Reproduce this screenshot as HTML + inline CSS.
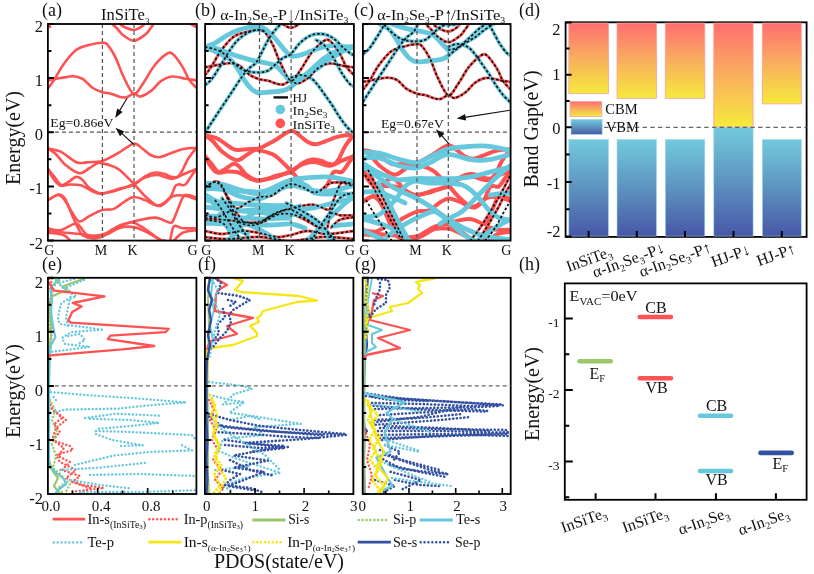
<!DOCTYPE html>
<html><head><meta charset="utf-8"><style>
html,body{margin:0;padding:0;background:#fff;}
svg{display:block;}
text{font-family:'Liberation Serif','Times New Roman',serif;fill:#111;}
</style></head><body>
<svg width="814" height="574" viewBox="0 0 814 574">
<rect width="814" height="574" fill="#fff"/>
<defs>
<clipPath id="clipa"><rect x="47.9" y="24" width="148.9" height="216.6"/></clipPath>
<clipPath id="clipb"><rect x="205.1" y="24" width="148.8" height="216.6"/></clipPath>
<clipPath id="clipc"><rect x="362.9" y="24" width="147.7" height="216.6"/></clipPath>
<clipPath id="clipd"><rect x="565.6" y="22.3" width="241" height="214.6"/></clipPath>
<clipPath id="clipe"><rect x="47.9" y="277.8" width="148.5" height="216.2"/></clipPath>
<clipPath id="clipf"><rect x="204.9" y="277.8" width="148.5" height="216.2"/></clipPath>
<clipPath id="clipg"><rect x="362.7" y="277.8" width="148" height="216.2"/></clipPath>
<clipPath id="cliph"><rect x="564.8" y="283.4" width="241.8" height="216.4"/></clipPath>
<linearGradient id="gcb" x1="0" y1="0" x2="0" y2="1"><stop offset="0" stop-color="#ff6e70"/><stop offset="0.45" stop-color="#f9a861"/><stop offset="1" stop-color="#f6ea3c"/></linearGradient>
<linearGradient id="gvb" x1="0" y1="0" x2="0" y2="1"><stop offset="0" stop-color="#72cadd"/><stop offset="0.5" stop-color="#5d93c0"/><stop offset="1" stop-color="#4757a8"/></linearGradient>
</defs>
<g fill="none" stroke="#ff5252" stroke-width="2.6" stroke-linecap="round" stroke-linejoin="round" clip-path="url(#clipa)">
<path d="M48 88.2C49.1 86.8 51.8 83.6 54.4 79.6C57 75.5 60.1 68.9 63.8 63.9C67.5 58.9 72.2 52.9 76.4 49.8C80.6 46.7 84.6 46.3 88.9 45.1C93.2 43.9 99.2 42.7 102.3 42.7C105.4 42.7 105.5 42.6 107.7 45.1C109.9 47.6 113 52.4 115.6 57.6C118.2 62.8 120.4 70.5 123.4 76.5C126.4 82.5 130.5 92.7 133.8 93.7C137.2 94.7 140.1 87.4 143.5 82.7C146.9 78 150.6 70.3 154.5 65.5C158.4 60.7 164 55.5 167.1 53.7C170.2 51.9 170.7 52.3 173.3 54.5C175.9 56.7 180.1 62.9 182.7 67.1C185.3 71.3 186.8 76.2 189 79.6C191.2 83 194.9 86.2 196.1 87.5"/>
<path d="M48 80.4C50.1 80 56.5 78.7 60.7 78C64.9 77.3 69.6 76.1 73.2 76.2C76.8 76.3 79.4 76.9 82.6 78.8C85.8 80.7 88.8 85.3 92.1 87.5C95.4 89.7 99.2 91.2 102.3 92.2C105.4 93.2 108 92.9 110.9 93.7C113.9 94.5 117.4 96.3 120 96.9C122.6 97.5 124 97.9 126.3 97.4C128.6 96.9 131.5 93.9 133.8 93.7C136.2 93.5 137.5 97 140.4 96.5C143.3 96 148 93.1 151.4 90.6C154.8 88 157.4 83.5 160.8 81.2C164.2 78.9 167.6 76.9 171.8 76.5C176 76.1 181.9 78.1 185.9 78.8C189.9 79.5 194.4 80.1 196.1 80.4"/>
<path d="M119.8 24C120.8 24.6 123.7 26.8 126 27.8C128.3 28.8 131.2 30 133.5 30C135.8 30 137.6 29 139.5 28C141.4 27 143.8 24.7 144.7 24"/>
<path d="M112.5 24C113.4 24.9 116.2 27.6 118 29.5C119.8 31.4 120.5 33.3 123.2 35.2C125.9 37.1 130.3 40.9 134 40.8C137.7 40.6 142.9 36.3 145.6 34.3C148.3 32.3 148.7 30.7 150 29C151.3 27.3 153.1 24.8 153.7 24"/>
<path d="M48 148.6C50.1 149.1 56 149.4 60.7 151.7C65.4 154 72.1 160.4 76.4 162.2C80.8 164 82.5 162.6 86.8 162.4C91.1 162.2 97.9 162.2 102.3 161.1C106.7 160 110 157.5 113 156C116 154.5 116.5 154.1 120 152C123.5 149.9 130 144.2 133.8 143.7C137.6 143.2 139.9 146.9 142.7 148.8C145.5 150.7 148 153.6 150.6 155C153.2 156.4 155.7 157.4 158.5 157.3C161.3 157.2 164.2 155.7 167.6 154.5C171 153.3 175.5 151.2 178.9 150.2C182.3 149.1 185.1 148.6 188 148.2C190.9 147.8 194.9 148 196.3 148"/>
<path d="M48 148.6C49.2 149.5 52.5 151 55.5 153.8C58.5 156.6 61.9 162.1 65.9 165.3C69.9 168.5 75.7 172.7 79.5 173.2C83.3 173.7 85.9 170.2 88.9 168.5C91.9 166.8 95.1 164 97.3 163.2C99.5 162.3 99.7 162.9 102.3 163.4C104.9 163.9 110 165.2 113 166.4C116 167.6 116.5 167.4 120 170.3C123.5 173.2 129.6 179.5 133.8 183.8C138 188.1 141.6 192.9 145.1 196.3C148.6 199.8 152.4 202.9 155.1 204.5C157.8 206.1 158.9 206.8 161.4 205.7C163.9 204.5 167.9 200.8 170.2 197.6C172.5 194.4 173.8 188.5 175.2 186.3C176.6 184.1 177.3 184.6 178.9 184.4C180.5 184.2 182.8 186.1 184.6 185C186.4 183.9 188.1 180.7 190 178C191.9 175.3 195.2 170.5 196.3 169"/>
<path d="M48 169C49.2 170.4 52.8 174.8 55 177.5C57.2 180.2 59.2 184.2 61.3 185C63.4 185.8 65.1 183.8 67.6 182.5C70.1 181.2 73.8 177.3 76.3 176.9C78.8 176.5 80.5 178.2 82.6 180C84.7 181.8 86.4 185.5 88.9 187.6C91.4 189.7 95.5 191.7 97.7 192.6C100 193.5 99.7 193.4 102.4 193.2C105.1 193 110.2 192.2 114 191.3C117.8 190.4 121.7 188.8 125 187.6C128.3 186.3 130.5 185.5 133.8 183.8C137.2 182.1 141.1 179 145.1 177.5C149.1 176 153 174.8 157.6 175C162.2 175.2 168.3 179 172.7 178.8C177.1 178.6 180.1 175.6 184 174C187.9 172.4 194.2 169.8 196.3 169"/>
<path d="M48 169C48.8 170.4 50.5 174.8 52.5 177.5C54.5 180.2 57.1 184.3 60 185.5C62.9 186.7 66.4 184.5 70 184.5C73.6 184.5 77.6 184.4 81.4 185.5C85.2 186.6 89.1 189.9 92.6 191.3C96.1 192.7 97.8 194.3 102.4 193.8C107 193.3 114.8 190 120 188.5C125.2 187 129.6 187 133.8 185C138 183 141.6 178.4 145.1 176.3C148.6 174.2 152 172.9 155.1 172.5C158.2 172.1 161.4 173.1 163.9 173.8C166.4 174.5 167.9 175.9 170 176.5C172.1 177.1 174.8 177.8 176.7 177.1C178.6 176.4 179.3 175.6 181.2 172.6C183.1 169.6 185.5 163.1 188 159C190.5 154.9 194.9 149.8 196.3 148"/>
<path d="M48 200.1C49.6 199.2 54.9 195.2 57.5 195C60.1 194.8 61.7 196.5 63.8 198.8C65.9 201.1 67.5 205.1 70 208.9C72.5 212.7 75.8 220.2 78.9 221.4C82.1 222.7 85 218.3 88.9 216.4C92.8 214.5 98.2 211.3 102.4 210.1C106.6 208.8 110.2 210.4 114 208.9C117.8 207.4 121.7 203.3 125 201.3C128.3 199.3 130.5 197.2 133.8 197C137.2 196.8 141.6 198.8 145.1 200.1C148.6 201.4 152.2 204.5 155.1 205.1C158 205.7 159.7 205.4 162.6 203.9C165.5 202.4 168.9 197.7 172.7 196.3C176.5 194.9 181.3 195.2 185.2 195.7C189.1 196.2 194.5 198.9 196.3 199.5"/>
<path d="M48 200.1C49.8 199.2 56 194.7 58.8 194.5C61.6 194.3 62.8 195.4 65 198.8C67.2 202.2 69.8 210.1 72 215C74.2 219.9 76.2 224.6 78 228C79.8 231.4 80.2 233.5 82.6 235.2C85 236.9 89.3 238.1 92.6 238.3C95.9 238.5 99.5 237.7 102.4 236.5C105.3 235.3 107 232.9 110 231C113 229.1 116.2 226.8 120.2 225.2C124.2 223.6 128 222.7 133.8 221.4C139.6 220.1 149 217.4 155.1 217.6C161.2 217.8 167.1 222.5 170.2 222.7C173.3 222.9 171.8 223.1 173.9 218.9C176 214.7 180.4 201.6 182.7 197.6C185 193.6 185.4 195.1 187.7 195.1C190 195.1 194.9 197.2 196.3 197.6"/>
<path d="M48 228.3C50 228.6 55.7 230.9 60 230.2C64.3 229.5 70.6 224.7 73.8 223.9C77 223.1 76.6 223.3 78.9 225.2C81.2 227.1 83.7 233.6 87.6 235.2C91.5 236.8 98 235.6 102.4 234.6C106.8 233.6 110.2 230.8 114 229C117.8 227.2 121.7 225.1 125 224C128.3 222.9 130.5 221.9 133.8 222.7C137.1 223.5 140.6 226.2 145 229C149.4 231.8 156.7 237.7 160 239.6C163.3 241.5 164.2 240.3 165 240.5"/>
<path d="M48 232.7C50.6 233.1 60.1 233.9 63.8 235.2C67.5 236.5 69 239.6 70 240.5"/>
<path d="M48 231C53.3 231.5 70.9 233.2 80 234C89.1 234.8 95.7 237.1 102.4 236C109.1 234.9 114.8 229.2 120 227.7C125.2 226.2 129.6 226.5 133.8 227.1C138 227.7 140.5 229.2 145.1 231.4C149.7 233.6 158.7 239 161.4 240.5"/>
<path d="M170.2 240.5C170.8 238.2 171.8 228.4 173.9 226.4C176 224.4 179 228 182.7 228.3C186.4 228.6 194 228.3 196.3 228.3"/>
<path d="M173.9 240.5C175.4 239.2 179 234.4 182.7 232.7C186.4 231 194 230.6 196.3 230.2"/>
<path d="M48 24L50 27"/>
<path d="M191 24L196.3 27"/>
</g>
<g fill="none" stroke-linecap="round" stroke-linejoin="round" clip-path="url(#clipb)">
<path d="M205 75.2C206.1 73.8 208.8 70.6 211.4 66.6C214.1 62.5 217.2 55.9 220.8 50.9C224.5 45.9 229.3 39.9 233.5 36.8C237.6 33.7 241.7 33.3 246 32.1C250.3 30.9 256.3 29.7 259.4 29.7C262.5 29.7 262.6 29.6 264.8 32.1C267 34.6 270.1 39.4 272.7 44.6C275.4 49.8 277.5 57.5 280.6 63.5C283.6 69.5 287.6 79.7 291 80.7C294.3 81.7 297.2 74.4 300.7 69.7C304.1 65 307.8 57.3 311.7 52.5C315.7 47.7 321.2 42.5 324.3 40.7C327.5 38.9 327.9 39.3 330.6 41.5C333.2 43.7 337.4 49.9 340 54.1C342.6 58.3 344 63.2 346.3 66.6C348.5 70 352.2 73.2 353.4 74.5" stroke="#ff5252" stroke-width="2.8"/>
<path d="M205 67.4C207.1 67 213.5 65.7 217.7 65C221.9 64.3 226.6 63.1 230.3 63.2C233.9 63.3 236.5 63.9 239.7 65.8C242.8 67.7 245.9 72.3 249.2 74.5C252.5 76.7 256.3 78.2 259.4 79.2C262.5 80.2 265.1 79.9 268 80.7C271 81.5 274.6 83.3 277.1 83.9C279.7 84.5 281.2 84.9 283.5 84.4C285.8 83.9 288.6 80.9 291 80.7C293.3 80.5 294.6 84 297.6 83.5C300.5 83 305.2 80.1 308.6 77.6C312 75 314.6 70.5 318 68.2C321.4 65.9 324.9 63.9 329.1 63.5C333.2 63.1 339.1 65.1 343.2 65.8C347.2 66.5 351.7 67.1 353.4 67.4" stroke="#ff5252" stroke-width="2.8"/>
<path d="M276.9 11C278 11.6 280.9 13.8 283.2 14.8C285.4 15.8 288.4 17 290.7 17C292.9 17 294.8 16 296.7 15C298.6 14 301 11.7 301.9 11" stroke="#ff5252" stroke-width="2.8"/>
<path d="M269.6 11C270.5 11.9 273.4 14.6 275.1 16.5C276.9 18.4 277.7 20.3 280.4 22.2C283 24.1 287.4 27.9 291.2 27.8C294.9 27.6 300.1 23.3 302.8 21.3C305.5 19.3 305.9 17.7 307.2 16C308.6 14.3 310.3 11.8 310.9 11" stroke="#ff5252" stroke-width="2.8"/>
<path d="M205 135.6C207.1 136.1 213 136.4 217.7 138.7C222.5 141 229.1 147.4 233.5 149.2C237.8 151 239.6 149.6 243.9 149.4C248.2 149.2 255 149.2 259.4 148.1C263.8 147 267.2 144.5 270.1 143C273.1 141.5 273.7 141.1 277.1 139C280.6 136.9 287.2 131.2 291 130.7C294.8 130.2 297.1 133.9 299.9 135.8C302.7 137.7 305.2 140.6 307.8 142C310.4 143.4 312.9 144.4 315.7 144.3C318.6 144.2 321.4 142.7 324.8 141.5C328.2 140.3 332.8 138.2 336.2 137.2C339.6 136.1 342.4 135.6 345.3 135.2C348.2 134.8 352.2 135 353.6 135" stroke="#ff5252" stroke-width="4.0"/>
<path d="M205 135.6C206.3 136.5 209.5 138 212.5 140.8C215.5 143.6 218.9 149.1 222.9 152.3C226.9 155.5 232.7 159.7 236.6 160.2C240.4 160.7 243 157.2 246 155.5C249 153.8 252.2 151 254.4 150.2C256.6 149.3 256.8 149.9 259.4 150.4C262 150.9 267.2 152.2 270.1 153.4C273.1 154.6 273.7 154.4 277.1 157.3C280.6 160.2 286.8 166.5 291 170.8C295.2 175.1 298.7 179.9 302.3 183.3C305.9 186.8 309.6 189.9 312.3 191.5C315 193.1 316.1 193.8 318.6 192.7C321.2 191.5 325.1 187.8 327.4 184.6C329.8 181.4 331 175.5 332.5 173.3C333.9 171.1 334.6 171.6 336.2 171.4C337.7 171.2 340 173.1 341.9 172C343.7 170.9 345.3 167.7 347.3 165C349.2 162.3 352.5 157.5 353.6 156" stroke="#ff5252" stroke-width="4.0"/>
<path d="M205 156C206.2 157.4 209.8 161.8 212 164.5C214.2 167.2 216.2 171.2 218.3 172C220.4 172.8 222.1 170.8 224.6 169.5C227.1 168.2 230.9 164.3 233.4 163.9C235.9 163.5 237.6 165.2 239.7 167C241.8 168.8 243.5 172.5 246 174.6C248.5 176.7 252.5 178.7 254.8 179.6C257.1 180.5 256.8 180.4 259.5 180.2C262.2 180 267.4 179.2 271.1 178.3C274.9 177.4 278.8 175.8 282.2 174.6C285.5 173.3 287.6 172.5 291 170.8C294.3 169.1 298.3 166 302.3 164.5C306.3 163 310.2 161.8 314.8 162C319.4 162.2 325.5 166 330 165.8C334.4 165.6 337.3 162.6 341.3 161C345.2 159.4 351.5 156.8 353.6 156" stroke="#ff5252" stroke-width="4.0"/>
<path d="M205 156C205.8 157.4 207.5 161.8 209.5 164.5C211.5 167.2 214.1 171.3 217 172.5C219.9 173.7 223.5 171.5 227 171.5C230.6 171.5 234.7 171.4 238.5 172.5C242.2 173.6 246.2 176.9 249.7 178.3C253.2 179.7 254.9 181.3 259.5 180.8C264.1 180.3 271.9 177 277.1 175.5C282.4 174 286.8 174 291 172C295.2 170 298.7 165.4 302.3 163.3C305.9 161.2 309.2 159.9 312.3 159.5C315.5 159.1 318.6 160.1 321.1 160.8C323.6 161.5 325.1 162.9 327.2 163.5C329.4 164.1 332.1 164.8 334 164.1C335.8 163.4 336.6 162.6 338.5 159.6C340.4 156.6 342.8 150.1 345.3 146C347.8 141.9 352.2 136.8 353.6 135" stroke="#ff5252" stroke-width="4.0"/>
<path d="M205 187.1C206.6 186.2 211.9 182.2 214.5 182C217.2 181.8 218.7 183.5 220.8 185.8C222.9 188.1 224.5 192.1 227 195.9C229.6 199.7 232.8 207.2 236 208.4C239.1 209.7 242.1 205.3 246 203.4C249.9 201.5 255.3 198.3 259.5 197.1C263.7 195.8 267.4 197.4 271.1 195.9C274.9 194.4 278.8 190.3 282.2 188.3C285.5 186.3 287.6 184.2 291 184C294.3 183.8 298.7 185.8 302.3 187.1C305.9 188.4 309.4 191.5 312.3 192.1C315.2 192.7 316.9 192.4 319.8 190.9C322.8 189.4 326.2 184.7 330 183.3C333.7 181.9 338.5 182.2 342.5 182.7C346.4 183.2 351.7 185.9 353.6 186.5" stroke="#ff5252" stroke-width="2.8"/>
<path d="M205 187.1C206.8 186.2 213 181.7 215.8 181.5C218.7 181.3 219.8 182.4 222 185.8C224.2 189.2 226.9 197.1 229 202C231.2 206.9 233.3 211.6 235.1 215C236.8 218.4 237.2 220.5 239.7 222.2C242.1 223.9 246.4 225.1 249.7 225.3C253 225.5 256.6 224.7 259.5 223.5C262.4 222.3 264.2 219.9 267.1 218C270.1 216.1 273.4 213.8 277.3 212.2C281.3 210.6 285.1 209.7 291 208.4C296.8 207.1 306.2 204.4 312.3 204.6C318.4 204.8 324.3 209.5 327.4 209.7C330.6 209.9 329.1 210.1 331.2 205.9C333.2 201.7 337.7 188.6 340 184.6C342.3 180.6 342.7 182.1 345 182.1C347.3 182.1 352.2 184.2 353.6 184.6" stroke="#ff5252" stroke-width="2.8"/>
<path d="M205 215.3C207 215.6 212.7 217.9 217 217.2C221.3 216.5 227.7 211.7 230.9 210.9C234 210.1 233.7 210.3 236 212.2C238.3 214.1 240.8 220.6 244.7 222.2C248.6 223.8 255.1 222.6 259.5 221.6C263.9 220.6 267.4 217.8 271.1 216C274.9 214.2 278.8 212.1 282.2 211C285.5 209.9 287.6 208.9 291 209.7C294.3 210.5 297.8 213.2 302.2 216C306.6 218.8 313.9 224.7 317.2 226.6C320.6 228.5 321.4 227.3 322.2 227.5" stroke="#ff5252" stroke-width="2.8"/>
<path d="M205 219.7C207.6 220.1 217.2 220.9 220.8 222.2C224.5 223.5 226 226.6 227 227.5" stroke="#ff5252" stroke-width="2.8"/>
<path d="M205 218C210.3 218.5 228 220.2 237.1 221C246.1 221.8 252.8 224.1 259.5 223C266.2 221.9 271.9 216.2 277.1 214.7C282.4 213.2 286.8 213.5 291 214.1C295.2 214.7 297.7 216.2 302.3 218.4C306.9 220.6 315.9 226 318.6 227.5" stroke="#ff5252" stroke-width="2.8"/>
<path d="M327.4 227.5C328.1 225.2 329.1 215.4 331.2 213.4C333.2 211.4 336.2 215 340 215.3C343.7 215.6 351.3 215.3 353.6 215.3" stroke="#ff5252" stroke-width="2.8"/>
<path d="M331.2 227.5C332.6 226.2 336.2 221.4 340 219.7C343.7 218 351.3 217.6 353.6 217.2" stroke="#ff5252" stroke-width="2.8"/>
<path d="M205 231C207.8 231.5 215.9 234 222 234C228.2 234 235.8 231.2 242.1 231C248.3 230.8 253.7 232 259.5 233C265.4 234 271.9 236.7 277.1 237C282.4 237.3 286 236 291 235C296 234 301.2 231.2 307.2 231C313.3 230.8 319.5 234 327.2 234C335 234 349.2 231.5 353.6 231" stroke="#ff5252" stroke-width="2.8"/>
<path d="M205 237C208.7 237.3 218 239 227 239C236.1 239 248.9 236.7 259.5 237C270.2 237.3 280.5 241 291 241C301.4 241 311.8 237.3 322.2 237C332.7 236.7 348.4 238.7 353.6 239" stroke="#ff5252" stroke-width="2.8"/>
<path d="M205 46.9C206.7 46.3 211.3 45.1 214.9 43.2C218.5 41.3 222.8 37.7 226.7 35.5C230.6 33.3 234.6 31.4 238.5 30C242.4 28.6 246.9 27.6 250.4 27C253.9 26.4 256.8 26.1 259.6 26.7C262.4 27.2 264.6 28.5 267 30.3C269.4 32.1 271.4 34.4 274.1 37.4C276.8 40.4 280.2 45 283 48.1C285.8 51.2 288 54.6 290.8 55.8C293.6 57 296.2 56 299.7 55.2C303.2 54.4 307.7 52.4 311.6 51C315.6 49.6 319.4 47.8 323.4 46.9C327.3 46 331.4 45.7 335.3 45.7C339.2 45.7 344 46.7 347.1 46.9C350.2 47.1 352.9 46.9 354 46.9" stroke="#66c8dc" stroke-width="4.8"/>
<path d="M205 46.9C206.7 47.1 211.3 47.2 214.9 48.1C218.5 49 222.8 50.8 226.7 52.2C230.6 53.6 234.6 55.1 238.5 56.4C242.4 57.7 246.9 59 250.4 59.9C253.9 60.8 256.6 61.1 259.6 61.7C262.6 62.3 265.5 62.8 268.2 63.5C270.9 64.2 273.5 64.4 276 66C278.5 67.6 280.5 70.5 283 73C285.5 75.5 288 80 290.8 81C293.6 82 296.2 80.8 299.7 78.9C303.2 77 307.7 72.8 311.6 69.4C315.6 66 319.4 61.7 323.4 58.7C327.3 55.7 331.4 53.5 335.3 51.6C339.2 49.7 344 48.3 347.1 47.5C350.2 46.7 352.9 47 354 46.9" stroke="#66c8dc" stroke-width="4.8"/>
<path d="M205 46.9C206.2 47.4 209.5 48.8 212 50C214.5 51.2 216.8 52.3 220 54C223.2 55.7 227.7 57.1 230.9 60C234.1 62.9 236.9 67.6 239.2 71.1C241.5 74.6 242.7 77.9 244.8 80.9C246.9 83.9 249.5 87.3 251.8 89.3C254.1 91.3 255.7 92.3 258.7 92.8C261.7 93.2 265.9 92.3 270 92C274.1 91.7 279.5 91.5 283 90.7C286.5 89.9 287.3 89.3 290.8 87C294.3 84.7 299.4 79.8 303.9 76.7C308.4 73.6 314.3 70.7 317.8 68.4C321.3 66.1 321.9 64.9 324.8 62.8C327.7 60.7 331.6 58.1 335 56C338.4 53.9 341.8 51.5 345 50C348.2 48.5 352.5 47.4 354 46.9" stroke="#66c8dc" stroke-width="4.8"/>
<path d="M205.1 132.5C207.1 129.5 212.6 120.9 216.9 114.4C221.2 107.9 226.7 99.7 230.9 93.4C235.1 87.1 239 80.9 242 76.7C245 72.5 246.7 70.7 249 68.4C251.3 66.1 253.8 65.5 256 62.8C258.2 60.1 260.2 55.5 262 52C263.8 48.5 265.3 45 267 42C268.7 39 270.3 36.3 272 34C273.7 31.7 275.5 29.7 277 28C278.5 26.3 279.8 25.3 281 24C282.2 22.7 283.5 20.7 284 20" stroke="#66c8dc" stroke-width="3.6"/>
<path d="M290.8 78C292.3 77.5 296.7 75 300 75C303.3 75 307.8 76.4 310.8 78.1C313.8 79.8 315.5 82.3 317.8 85.1C320.1 87.9 322.5 91.5 324.8 94.8C327.1 98 329.4 101.1 331.7 104.6C334 108.1 336.4 112.2 338.7 115.7C341 119.2 343.4 122.7 345.7 125.5C348 128.3 351 130.8 352.7 132.5C354.4 134.2 355.4 135.4 356 136" stroke="#66c8dc" stroke-width="3.6"/>
<path d="M205 85.1C206.1 84.2 209 82.5 211.4 79.5C213.8 76.5 217.6 70.2 219.7 67C221.8 63.8 222.2 62.8 223.9 60C225.6 57.2 228 53 230 50C232 47 233.7 44.5 236 42C238.3 39.5 241.3 36.8 244 35C246.7 33.2 249.4 31.8 252 31C254.6 30.2 257.3 29.8 259.6 30C261.9 30.2 264.9 31.7 266 32" stroke="#66c8dc" stroke-width="3.6"/>
<path d="M205 46.9C207.6 47.7 216.2 49 220.8 51.6C225.4 54.2 229.1 59.3 232.6 62.3C236.1 65.3 239.1 67.8 242.1 69.4C245.1 71 247.5 71.3 250.4 71.8C253.3 72.3 256.6 72.6 259.6 72.4C262.6 72.2 265.4 72.1 268.2 70.6C271 69.1 274 65.6 276.5 63.5C279 61.4 280.6 59.6 283 58C285.4 56.4 288 56.5 290.8 54C293.6 51.5 296.6 46.3 299.7 43.3C302.8 40.3 306.2 37.8 309.2 36.2C312.2 34.6 314.5 34.1 317.5 33.9C320.5 33.7 324 34 327 35C330 36 332.7 37.8 335.3 39.8C337.9 41.8 340 44.7 342.4 46.9C344.8 49.1 347.6 51.4 349.5 52.8C351.4 54.2 353.2 54.8 354 55.2" stroke="#66c8dc" stroke-width="3.6"/>
<path d="M316 40C317.2 40.7 320.8 42.1 323 44C325.2 45.9 327.2 48.8 329.3 51.6C331.4 54.5 333.1 57.4 335.3 61.1C337.5 64.8 340 70.3 342.4 74.1C344.8 77.8 347.6 81.5 349.5 83.6C351.4 85.7 353.2 86 354 86.5" stroke="#66c8dc" stroke-width="3.6"/>
<path d="M204.6 183.2C207.3 183.4 214.8 183 221 184.2C227.3 185.4 235.8 188.9 242.1 190.5C248.4 192.1 253.8 194.2 259 193.7C264.3 193.2 268.5 189.7 273.7 187.4C279 185.1 285.4 181.7 290.7 180.1C296 178.5 299.4 178.5 305.4 178C311.4 177.5 319.4 176.6 326.5 176.9C333.5 177.2 342.9 179.2 347.5 180.1C352.2 181 353.1 181.8 354.2 182.2" stroke="#66c8dc" stroke-width="4.8"/>
<path d="M204.6 189C207.3 189 214.8 187.7 221 189C227.3 190.3 235.8 195.3 242.1 197C248.4 198.7 253.8 199.7 259 199C264.3 198.3 268.5 195.3 273.7 193C279 190.7 284 185.7 290.7 185.3C297.3 184.9 306.9 189.8 313.8 190.7C320.6 191.6 325.1 191.6 331.8 190.7C338.5 189.8 350.5 186.2 354.2 185.3" stroke="#66c8dc" stroke-width="4.8"/>
<path d="M204.7 194.3C207.3 195.8 214.5 200.6 220.1 203.3C225.7 206 232.1 209.4 238.2 210.5C244.2 211.6 249.6 209.8 256.2 209.6C262.8 209.4 271 209.6 277.6 209.6C284.1 209.6 289.6 209.9 295.6 209.6C301.7 209.3 307.7 208.9 313.8 207.8C319.8 206.8 325.1 205 331.8 203.3C338.5 201.7 350.5 198.8 354.2 197.9" stroke="#66c8dc" stroke-width="4.8"/>
<path d="M204.7 197C207.3 198.8 214.5 204.2 220.1 208C225.7 211.8 232.1 216.7 238.2 220C244.2 223.3 250.3 225 256.2 228C262.1 231 267.8 234.3 273.5 238C279.3 241.7 285.4 246.6 290.7 250C296 253.4 299.4 255.7 305.4 258.5C311.4 261.3 319.4 265 326.5 266.9C333.5 268.8 342.7 269.3 347.5 270C352.3 270.7 353.9 270.8 355.2 271" stroke="#66c8dc" stroke-width="4.8"/>
<path d="M204.7 248.1C207.3 247.8 216.1 247.8 220.1 246.3C224.2 244.8 226.1 241.9 229.1 239.2C232.1 236.5 235.2 233.8 238.2 230.2C241.2 226.6 244.1 220.6 247.1 217.6C250.1 214.6 252 212.9 256.2 212.3C260.4 211.7 266.9 213.7 272.5 214C278.2 214.3 287.3 214 290.3 214" stroke="#66c8dc" stroke-width="4.8"/>
<path d="M204.7 223C207.3 223 215.2 222.2 220.1 223C225 223.8 229.7 226.2 234.2 228C238.8 229.8 245.2 233 247.3 234" stroke="#66c8dc" stroke-width="4.8"/>
<path d="M204.7 250C208.8 251.2 222 254.1 229.1 257.1C236.2 260.1 243.3 265.4 247.1 267.9C251 270.4 249.8 269.8 252.4 272C254.9 274.2 260.8 279.5 262.5 281" stroke="#66c8dc" stroke-width="4.8"/>
<path d="M220.1 214C221.6 216.7 226.1 224.5 229.1 230.2C232.1 235.9 235.2 242.4 238.2 248.1C241.2 253.8 244.8 259.7 247.1 264.3C249.5 268.9 251.5 274.1 252.4 276" stroke="#66c8dc" stroke-width="4.8"/>
<path d="M229.1 267.9C232.1 265.8 241.1 258.9 247.1 255.3C253.2 251.7 260.2 248.4 265.3 246.3C270.4 244.2 273.4 241.8 277.6 242.7C281.7 243.6 285.8 248.1 290.3 251.7C294.8 255.3 300.8 261.3 304.7 264.3C308.6 267.3 311.1 268.1 313.8 269.7C316.5 271.3 319.7 273.3 320.9 274" stroke="#66c8dc" stroke-width="4.8"/>
<path d="M290.3 214C292.7 214.3 300.8 214.6 304.7 215.8C308.6 217 310.8 218.8 313.8 221.2C316.8 223.6 319.7 226.9 322.7 230.2C325.7 233.5 328.8 238 331.8 241C334.8 244 337.1 246.3 340.9 248.1C344.6 249.9 352 251.1 354.2 251.7" stroke="#66c8dc" stroke-width="4.8"/>
<path d="M282.6 255C283.9 254.2 286.6 252 290.3 249.9C294 247.8 299.3 246.9 304.7 242.7C310.1 238.5 318.2 229.3 322.7 224.8C327.3 220.3 328.8 218.8 331.8 215.8C334.8 212.8 337.1 210.2 340.9 206.9C344.6 203.6 352 197.9 354.2 196.1" stroke="#66c8dc" stroke-width="4.8"/>
<path d="M314.9 275C316.2 274.1 318.4 272.7 322.7 269.7C327.1 266.7 335.6 260.4 340.9 257.1C346.1 253.8 352 251.2 354.2 250" stroke="#66c8dc" stroke-width="4.8"/>
<path d="M333 226C334.3 225.8 337.4 225.2 340.9 224.8C344.4 224.5 352 224.1 354.2 223.9" stroke="#66c8dc" stroke-width="4.8"/>
<path d="M204.7 261C206.8 262 212.8 264.8 217.1 267C221.3 269.2 228 272.8 230.2 274" stroke="#66c8dc" stroke-width="4.8"/>
<path d="M205 188C209.2 188.3 220.9 189.3 230 190C239.1 190.7 251.9 192.3 259.6 192C267.3 191.7 270.8 189 276 188C281.2 187 287.2 186.9 291 186C294.8 185.1 296.1 182.6 298.9 182.7C301.7 182.8 305.2 184.8 307.8 186.5C310.4 188.2 311 191.6 314.2 192.9C317.4 194.2 322.7 194.1 326.9 194.2C331.1 194.3 335.1 193.3 339.6 193.5C344.1 193.7 351.6 195.1 354 195.4" stroke="#66c8dc" stroke-width="4.8"/>
<path d="M286 203C286.9 203.4 288.7 204.3 291.3 205.6C293.9 206.9 297.6 208.6 301.4 210.7C305.2 212.8 311 216.2 314.2 218.3C317.4 220.4 318.4 221.3 320.5 223.4C322.6 225.5 324.8 228.4 326.9 231C329 233.6 331.7 236.7 333.2 238.7C334.7 240.7 335.5 242.3 336 243" stroke="#66c8dc" stroke-width="3.6"/>
<path d="M312 241C312.4 240.2 312.8 238.7 314.2 236.2C315.6 233.7 318 229.8 320.5 226C323 222.2 326.6 217.2 329.4 213.2C332.1 209.2 334.7 204.8 337 201.8C339.3 198.8 340.6 196.9 343.4 195.4C346.2 193.9 352.2 193.3 354 192.9" stroke="#66c8dc" stroke-width="3.6"/>
<path d="M205 200C209.2 200.5 220.9 202.2 230 203C239.1 203.8 251.9 204.6 259.6 205C267.3 205.4 270.7 205.5 276 205.6C281.3 205.7 288.8 205.6 291.3 205.6" stroke="#66c8dc" stroke-width="4.8"/>
<path d="M205 207C209.2 207.5 220.9 209.2 230 210C239.1 210.8 251.9 212.1 259.6 212C267.3 211.9 270.8 210.1 276 209.4C281.2 208.7 287 208.6 291 208C295 207.4 298.5 206.3 300 206" stroke="#66c8dc" stroke-width="4.8"/>
<path d="M205 216C209.2 216.2 220.9 216.5 230 217C239.1 217.5 251.9 218.8 259.6 219C267.3 219.2 270.9 218.5 276 218.3C281.1 218.1 287.7 218.1 290 218" stroke="#66c8dc" stroke-width="4.8"/>
<path d="M205 223C209.2 223.2 220.9 223.7 230 224C239.1 224.3 251.9 224.9 259.6 225C267.3 225.1 270.8 224.9 276 224.7C281.2 224.5 286.2 223.4 291 224C295.8 224.6 302.7 227.3 305 228" stroke="#66c8dc" stroke-width="4.8"/>
<path d="M215 200C216.2 201.7 219.7 206.3 222 210C224.3 213.7 226.7 218.2 229 222C231.3 225.8 233.8 229.8 236 233C238.2 236.2 241 239.7 242 241" stroke="#66c8dc" stroke-width="3.6"/>
<path d="M222 198C223.2 199.7 226.7 204.3 229 208C231.3 211.7 233.5 216 236 220C238.5 224 241.7 228.5 244 232C246.3 235.5 249 239.5 250 241" stroke="#66c8dc" stroke-width="3.6"/>
<g stroke="#111" stroke-width="1.7" stroke-dasharray="2.6 2" stroke-linecap="butt">
<path d="M205 75.2C206.1 73.8 208.8 70.6 211.4 66.6C214.1 62.5 217.2 55.9 220.8 50.9C224.5 45.9 229.3 39.9 233.5 36.8C237.6 33.7 241.7 33.3 246 32.1C250.3 30.9 256.3 29.7 259.4 29.7C262.5 29.7 262.6 29.6 264.8 32.1C267 34.6 270.1 39.4 272.7 44.6C275.4 49.8 277.5 57.5 280.6 63.5C283.6 69.5 287.6 79.7 291 80.7C294.3 81.7 297.2 74.4 300.7 69.7C304.1 65 307.8 57.3 311.7 52.5C315.7 47.7 321.2 42.5 324.3 40.7C327.5 38.9 327.9 39.3 330.6 41.5C333.2 43.7 337.4 49.9 340 54.1C342.6 58.3 344 63.2 346.3 66.6C348.5 70 352.2 73.2 353.4 74.5"/>
<path d="M205 67.4C207.1 67 213.5 65.7 217.7 65C221.9 64.3 226.6 63.1 230.3 63.2C233.9 63.3 236.5 63.9 239.7 65.8C242.8 67.7 245.9 72.3 249.2 74.5C252.5 76.7 256.3 78.2 259.4 79.2C262.5 80.2 265.1 79.9 268 80.7C271 81.5 274.6 83.3 277.1 83.9C279.7 84.5 281.2 84.9 283.5 84.4C285.8 83.9 288.6 80.9 291 80.7C293.3 80.5 294.6 84 297.6 83.5C300.5 83 305.2 80.1 308.6 77.6C312 75 314.6 70.5 318 68.2C321.4 65.9 324.9 63.9 329.1 63.5C333.2 63.1 339.1 65.1 343.2 65.8C347.2 66.5 351.7 67.1 353.4 67.4"/>
<path d="M276.9 11C278 11.6 280.9 13.8 283.2 14.8C285.4 15.8 288.4 17 290.7 17C292.9 17 294.8 16 296.7 15C298.6 14 301 11.7 301.9 11"/>
<path d="M269.6 11C270.5 11.9 273.4 14.6 275.1 16.5C276.9 18.4 277.7 20.3 280.4 22.2C283 24.1 287.4 27.9 291.2 27.8C294.9 27.6 300.1 23.3 302.8 21.3C305.5 19.3 305.9 17.7 307.2 16C308.6 14.3 310.3 11.8 310.9 11"/>
<path d="M205 187.1C206.6 186.2 211.9 182.2 214.5 182C217.2 181.8 218.7 183.5 220.8 185.8C222.9 188.1 224.5 192.1 227 195.9C229.6 199.7 232.8 207.2 236 208.4C239.1 209.7 242.1 205.3 246 203.4C249.9 201.5 255.3 198.3 259.5 197.1C263.7 195.8 267.4 197.4 271.1 195.9C274.9 194.4 278.8 190.3 282.2 188.3C285.5 186.3 287.6 184.2 291 184C294.3 183.8 298.7 185.8 302.3 187.1C305.9 188.4 309.4 191.5 312.3 192.1C315.2 192.7 316.9 192.4 319.8 190.9C322.8 189.4 326.2 184.7 330 183.3C333.7 181.9 338.5 182.2 342.5 182.7C346.4 183.2 351.7 185.9 353.6 186.5"/>
<path d="M205 187.1C206.8 186.2 213 181.7 215.8 181.5C218.7 181.3 219.8 182.4 222 185.8C224.2 189.2 226.9 197.1 229 202C231.2 206.9 233.3 211.6 235.1 215C236.8 218.4 237.2 220.5 239.7 222.2C242.1 223.9 246.4 225.1 249.7 225.3C253 225.5 256.6 224.7 259.5 223.5C262.4 222.3 264.2 219.9 267.1 218C270.1 216.1 273.4 213.8 277.3 212.2C281.3 210.6 285.1 209.7 291 208.4C296.8 207.1 306.2 204.4 312.3 204.6C318.4 204.8 324.3 209.5 327.4 209.7C330.6 209.9 329.1 210.1 331.2 205.9C333.2 201.7 337.7 188.6 340 184.6C342.3 180.6 342.7 182.1 345 182.1C347.3 182.1 352.2 184.2 353.6 184.6"/>
<path d="M205 215.3C207 215.6 212.7 217.9 217 217.2C221.3 216.5 227.7 211.7 230.9 210.9C234 210.1 233.7 210.3 236 212.2C238.3 214.1 240.8 220.6 244.7 222.2C248.6 223.8 255.1 222.6 259.5 221.6C263.9 220.6 267.4 217.8 271.1 216C274.9 214.2 278.8 212.1 282.2 211C285.5 209.9 287.6 208.9 291 209.7C294.3 210.5 297.8 213.2 302.2 216C306.6 218.8 313.9 224.7 317.2 226.6C320.6 228.5 321.4 227.3 322.2 227.5"/>
<path d="M205 219.7C207.6 220.1 217.2 220.9 220.8 222.2C224.5 223.5 226 226.6 227 227.5"/>
<path d="M205 218C210.3 218.5 228 220.2 237.1 221C246.1 221.8 252.8 224.1 259.5 223C266.2 221.9 271.9 216.2 277.1 214.7C282.4 213.2 286.8 213.5 291 214.1C295.2 214.7 297.7 216.2 302.3 218.4C306.9 220.6 315.9 226 318.6 227.5"/>
<path d="M327.4 227.5C328.1 225.2 329.1 215.4 331.2 213.4C333.2 211.4 336.2 215 340 215.3C343.7 215.6 351.3 215.3 353.6 215.3"/>
<path d="M331.2 227.5C332.6 226.2 336.2 221.4 340 219.7C343.7 218 351.3 217.6 353.6 217.2"/>
<path d="M205 231C207.8 231.5 215.9 234 222 234C228.2 234 235.8 231.2 242.1 231C248.3 230.8 253.7 232 259.5 233C265.4 234 271.9 236.7 277.1 237C282.4 237.3 286 236 291 235C296 234 301.2 231.2 307.2 231C313.3 230.8 319.5 234 327.2 234C335 234 349.2 231.5 353.6 231"/>
<path d="M205 237C208.7 237.3 218 239 227 239C236.1 239 248.9 236.7 259.5 237C270.2 237.3 280.5 241 291 241C301.4 241 311.8 237.3 322.2 237C332.7 236.7 348.4 238.7 353.6 239"/>
<path d="M205.1 132.5C207.1 129.5 212.6 120.9 216.9 114.4C221.2 107.9 226.7 99.7 230.9 93.4C235.1 87.1 239 80.9 242 76.7C245 72.5 246.7 70.7 249 68.4C251.3 66.1 253.8 65.5 256 62.8C258.2 60.1 260.2 55.5 262 52C263.8 48.5 265.3 45 267 42C268.7 39 270.3 36.3 272 34C273.7 31.7 275.5 29.7 277 28C278.5 26.3 279.8 25.3 281 24C282.2 22.7 283.5 20.7 284 20"/>
<path d="M290.8 78C292.3 77.5 296.7 75 300 75C303.3 75 307.8 76.4 310.8 78.1C313.8 79.8 315.5 82.3 317.8 85.1C320.1 87.9 322.5 91.5 324.8 94.8C327.1 98 329.4 101.1 331.7 104.6C334 108.1 336.4 112.2 338.7 115.7C341 119.2 343.4 122.7 345.7 125.5C348 128.3 351 130.8 352.7 132.5C354.4 134.2 355.4 135.4 356 136"/>
<path d="M205 85.1C206.1 84.2 209 82.5 211.4 79.5C213.8 76.5 217.6 70.2 219.7 67C221.8 63.8 222.2 62.8 223.9 60C225.6 57.2 228 53 230 50C232 47 233.7 44.5 236 42C238.3 39.5 241.3 36.8 244 35C246.7 33.2 249.4 31.8 252 31C254.6 30.2 257.3 29.8 259.6 30C261.9 30.2 264.9 31.7 266 32"/>
<path d="M205 46.9C207.6 47.7 216.2 49 220.8 51.6C225.4 54.2 229.1 59.3 232.6 62.3C236.1 65.3 239.1 67.8 242.1 69.4C245.1 71 247.5 71.3 250.4 71.8C253.3 72.3 256.6 72.6 259.6 72.4C262.6 72.2 265.4 72.1 268.2 70.6C271 69.1 274 65.6 276.5 63.5C279 61.4 280.6 59.6 283 58C285.4 56.4 288 56.5 290.8 54C293.6 51.5 296.6 46.3 299.7 43.3C302.8 40.3 306.2 37.8 309.2 36.2C312.2 34.6 314.5 34.1 317.5 33.9C320.5 33.7 324 34 327 35C330 36 332.7 37.8 335.3 39.8C337.9 41.8 340 44.7 342.4 46.9C344.8 49.1 347.6 51.4 349.5 52.8C351.4 54.2 353.2 54.8 354 55.2"/>
<path d="M316 40C317.2 40.7 320.8 42.1 323 44C325.2 45.9 327.2 48.8 329.3 51.6C331.4 54.5 333.1 57.4 335.3 61.1C337.5 64.8 340 70.3 342.4 74.1C344.8 77.8 347.6 81.5 349.5 83.6C351.4 85.7 353.2 86 354 86.5"/>
<path d="M286 203C286.9 203.4 288.7 204.3 291.3 205.6C293.9 206.9 297.6 208.6 301.4 210.7C305.2 212.8 311 216.2 314.2 218.3C317.4 220.4 318.4 221.3 320.5 223.4C322.6 225.5 324.8 228.4 326.9 231C329 233.6 331.7 236.7 333.2 238.7C334.7 240.7 335.5 242.3 336 243"/>
<path d="M312 241C312.4 240.2 312.8 238.7 314.2 236.2C315.6 233.7 318 229.8 320.5 226C323 222.2 326.6 217.2 329.4 213.2C332.1 209.2 334.7 204.8 337 201.8C339.3 198.8 340.6 196.9 343.4 195.4C346.2 193.9 352.2 193.3 354 192.9"/>
<path d="M215 200C216.2 201.7 219.7 206.3 222 210C224.3 213.7 226.7 218.2 229 222C231.3 225.8 233.8 229.8 236 233C238.2 236.2 241 239.7 242 241"/>
<path d="M222 198C223.2 199.7 226.7 204.3 229 208C231.3 211.7 233.5 216 236 220C238.5 224 241.7 228.5 244 232C246.3 235.5 249 239.5 250 241"/>
</g></g>
<g fill="none" stroke-linecap="round" stroke-linejoin="round" clip-path="url(#clipc)">
<path d="M363 89.7C364.1 88.3 366.7 85.1 369.4 81.1C372 77 375.1 70.4 378.7 65.4C382.3 60.4 387.1 54.4 391.2 51.3C395.4 48.2 399.4 47.8 403.7 46.6C407.9 45.4 413.9 44.2 417 44.2C420.1 44.2 420.1 44.1 422.3 46.6C424.5 49.1 427.6 53.9 430.2 59.1C432.8 64.3 434.9 72 437.9 78C441 84 445 94.2 448.3 95.2C451.6 96.2 454.5 88.9 457.9 84.2C461.4 79.5 464.9 71.8 468.9 67C472.8 62.2 478.3 57 481.4 55.2C484.5 53.4 485 53.8 487.5 56C490.1 58.2 494.3 64.4 496.9 68.6C499.5 72.8 500.9 77.7 503.1 81.1C505.4 84.5 509 87.7 510.2 89" stroke="#ff5252" stroke-width="2.8"/>
<path d="M363 81.9C365.1 81.5 371.4 80.2 375.6 79.5C379.8 78.8 384.4 77.6 388 77.7C391.7 77.8 394.3 78.4 397.4 80.3C400.5 82.2 403.6 86.8 406.8 89C410.1 91.2 413.9 92.7 417 93.7C420.1 94.7 422.6 94.4 425.5 95.2C428.5 96 432 97.8 434.6 98.4C437.1 99 438.5 99.4 440.8 98.9C443.1 98.4 445.9 95.4 448.3 95.2C450.6 95 451.9 98.5 454.8 98C457.8 97.5 462.4 94.6 465.8 92.1C469.2 89.5 471.7 85 475.1 82.7C478.5 80.4 481.9 78.4 486 78C490.2 77.6 496 79.6 500.1 80.3C504.1 81 508.5 81.6 510.2 81.9" stroke="#ff5252" stroke-width="2.8"/>
<path d="M434.4 25.5C435.4 26.1 438.3 28.3 440.5 29.3C442.8 30.3 445.7 31.5 448 31.5C450.2 31.5 452.1 30.5 453.9 29.5C455.8 28.5 458.3 26.2 459.1 25.5" stroke="#ff5252" stroke-width="2.8"/>
<path d="M427.1 25.5C428 26.4 430.8 29.1 432.6 31C434.3 32.9 435.1 34.8 437.7 36.7C440.4 38.6 444.8 42.4 448.5 42.3C452.2 42.1 457.4 37.8 460 35.8C462.7 33.8 463 32.2 464.4 30.5C465.7 28.8 467.4 26.3 468.1 25.5" stroke="#ff5252" stroke-width="2.8"/>
<path d="M363 150.1C365.1 150.6 370.9 150.9 375.6 153.2C380.3 155.5 386.9 161.9 391.2 163.7C395.6 165.5 397.3 164.1 401.6 163.9C405.9 163.7 412.6 163.7 417 162.6C421.3 161.5 424.7 159 427.6 157.5C430.5 156 431.1 155.6 434.6 153.5C438 151.4 444.5 145.7 448.3 145.2C452 144.7 454.3 148.4 457.1 150.3C459.9 152.2 462.4 155.1 465 156.5C467.6 157.9 470 158.9 472.8 158.8C475.6 158.7 478.5 157.2 481.9 156C485.3 154.8 489.7 152.8 493.1 151.7C496.5 150.6 499.3 150.1 502.2 149.7C505 149.3 509 149.5 510.4 149.5" stroke="#ff5252" stroke-width="4.0"/>
<path d="M363 150.1C364.2 151 367.5 152.5 370.5 155.3C373.4 158.1 376.8 163.6 380.8 166.8C384.8 170 390.5 174.2 394.3 174.7C398.1 175.2 400.7 171.7 403.7 170C406.6 168.3 409.8 165.5 412 164.7C414.2 163.8 414.4 164.4 417 164.9C419.6 165.4 424.7 166.8 427.6 167.9C430.5 169.1 431.1 168.9 434.6 171.8C438 174.7 444.1 181 448.3 185.3C452.4 189.6 456 194.4 459.5 197.8C463 201.2 466.8 204.4 469.5 206C472.2 207.6 473.2 208.3 475.7 207.2C478.2 206 482.2 202.3 484.5 199.1C486.7 195.9 488 190 489.4 187.8C490.9 185.6 491.5 186.1 493.1 185.9C494.7 185.7 496.9 187.6 498.8 186.5C500.6 185.4 502.2 182.2 504.1 179.5C506.1 176.8 509.4 172 510.4 170.5" stroke="#ff5252" stroke-width="4.0"/>
<path d="M363 170.5C364.2 171.9 367.8 176.3 370 179C372.2 181.7 374.1 185.7 376.2 186.5C378.3 187.3 380 185.3 382.5 184C385 182.7 388.6 178.8 391.1 178.4C393.6 178 395.3 179.7 397.4 181.5C399.5 183.3 401.2 187 403.7 189.1C406.2 191.2 410.2 193.2 412.4 194.1C414.6 195 414.4 194.9 417.1 194.7C419.8 194.5 424.9 193.7 428.6 192.8C432.3 191.9 436.3 190.3 439.5 189.1C442.8 187.8 445 187 448.3 185.3C451.6 183.6 455.6 180.5 459.5 179C463.5 177.5 467.4 176.3 471.9 176.5C476.5 176.7 482.6 180.5 486.9 180.3C491.3 180.1 494.3 177.1 498.2 175.5C502.1 173.9 508.4 171.3 510.4 170.5" stroke="#ff5252" stroke-width="4.0"/>
<path d="M363 170.5C363.7 171.9 365.5 176.2 367.5 179C369.5 181.8 372 185.8 374.9 187C377.8 188.2 381.3 186 384.9 186C388.4 186 392.5 185.9 396.2 187C399.9 188.1 403.9 191.4 407.3 192.8C410.8 194.2 412.5 195.8 417.1 195.3C421.6 194.8 429.4 191.5 434.6 190C439.8 188.5 444.1 188.5 448.3 186.5C452.4 184.5 456 179.9 459.5 177.8C463 175.7 466.3 174.4 469.5 174C472.6 173.6 475.7 174.6 478.2 175.3C480.7 176 482.1 177.4 484.3 178C486.4 178.6 489.1 179.2 490.9 178.6C492.8 177.9 493.5 177.1 495.4 174.1C497.3 171.1 499.7 164.6 502.2 160.5C504.7 156.4 509 151.3 510.4 149.5" stroke="#ff5252" stroke-width="4.0"/>
<path d="M363 201.6C364.6 200.8 369.8 196.7 372.4 196.5C375.1 196.3 376.6 198 378.7 200.3C380.8 202.6 382.4 206.6 384.9 210.4C387.4 214.2 390.6 221.7 393.7 222.9C396.8 224.2 399.8 219.8 403.7 217.9C407.5 216 412.9 212.8 417.1 211.6C421.2 210.3 424.9 211.9 428.6 210.4C432.3 208.9 436.3 204.8 439.5 202.8C442.8 200.8 445 198.7 448.3 198.5C451.6 198.3 456 200.2 459.5 201.6C463 202.9 466.6 206 469.5 206.6C472.3 207.2 474 206.9 476.9 205.4C479.8 203.9 483.2 199.2 486.9 197.8C490.7 196.4 495.5 196.7 499.4 197.2C503.3 197.7 508.6 200.4 510.4 201" stroke="#ff5252" stroke-width="4.0"/>
<path d="M363 201.6C364.8 200.7 370.9 196.2 373.7 196C376.6 195.8 377.7 196.9 379.9 200.3C382.1 203.7 384.7 211.6 386.9 216.5C389 221.4 391.1 226.1 392.8 229.5C394.6 232.9 395 235 397.4 236.7C399.8 238.4 404 239.6 407.3 239.8C410.6 240 414.2 239.2 417.1 238C420 236.8 421.7 234.4 424.6 232.5C427.6 230.6 430.8 228.3 434.8 226.7C438.7 225.1 442.5 224.2 448.3 222.9C454.1 221.6 463.4 218.9 469.5 219.1C475.5 219.3 481.3 224 484.5 224.2C487.6 224.4 486.1 224.6 488.1 220.4C490.2 216.2 494.6 203.1 496.9 199.1C499.2 195.1 499.6 196.6 501.9 196.6C504.1 196.6 509 198.7 510.4 199.1" stroke="#ff5252" stroke-width="4.0"/>
<path d="M363 229.8C365 230.1 370.7 232.4 374.9 231.7C379.2 231 385.5 226.2 388.6 225.4C391.8 224.6 391.4 224.8 393.7 226.7C396 228.6 398.5 235.1 402.4 236.7C406.3 238.3 412.7 237.1 417.1 236.1C421.4 235.1 424.9 232.3 428.6 230.5C432.3 228.7 436.3 226.6 439.5 225.5C442.8 224.4 445 223.4 448.3 224.2C451.6 225 455.1 227.7 459.4 230.5C463.8 233.3 471 239.2 474.3 241.1C477.6 243 478.5 241.8 479.3 242" stroke="#ff5252" stroke-width="4.0"/>
<path d="M363 234.2C365.6 234.6 375.1 235.4 378.7 236.7C382.3 238 383.8 241.1 384.9 242" stroke="#ff5252" stroke-width="4.0"/>
<path d="M363 232.5C368.3 233 385.8 234.7 394.8 235.5C403.8 236.3 410.4 238.6 417.1 237.5C423.7 236.4 429.4 230.7 434.6 229.2C439.8 227.7 444.1 228 448.3 228.6C452.4 229.2 454.9 230.7 459.5 232.9C464.1 235.1 473 240.5 475.7 242" stroke="#ff5252" stroke-width="4.0"/>
<path d="M484.5 242C485.1 239.7 486.1 229.9 488.1 227.9C490.2 225.9 493.2 229.5 496.9 229.8C500.6 230.1 508.1 229.8 510.4 229.8" stroke="#ff5252" stroke-width="4.0"/>
<path d="M488.1 242C489.6 240.7 493.2 235.9 496.9 234.2C500.6 232.5 508.1 232.1 510.4 231.7" stroke="#ff5252" stroke-width="4.0"/>
<path d="M363 245.5C365.8 246 373.8 248.5 379.9 248.5C386 248.5 393.6 245.7 399.8 245.5C406 245.3 411.3 246.5 417.1 247.5C422.9 248.5 429.4 251.2 434.6 251.5C439.8 251.8 443.3 250.5 448.3 249.5C453.2 248.5 458.4 245.7 464.4 245.5C470.4 245.3 476.6 248.5 484.3 248.5C491.9 248.5 506 246 510.4 245.5" stroke="#ff5252" stroke-width="4.0"/>
<path d="M363 251.5C366.6 251.8 375.9 253.5 384.9 253.5C393.9 253.5 406.5 251.2 417.1 251.5C427.6 251.8 437.9 255.5 448.3 255.5C458.7 255.5 468.9 251.8 479.3 251.5C489.6 251.2 505.2 253.2 510.4 253.5" stroke="#ff5252" stroke-width="4.0"/>
<path d="M365 175C366.2 176.7 369.5 180.8 372 185C374.5 189.2 377.3 195 380 200C382.7 205 385.5 210.3 388 215C390.5 219.7 392.7 223.7 395 228C397.3 232.3 400.8 238.8 402 241" stroke="#ff5252" stroke-width="2.8"/>
<path d="M368 170C369.3 172.5 373.3 180 376 185C378.7 190 381.3 194.8 384 200C386.7 205.2 389.3 210.7 392 216C394.7 221.3 398 227.8 400 232C402 236.2 403.3 239.5 404 241" stroke="#ff5252" stroke-width="2.8"/>
<path d="M470 241C471.7 238.8 476.7 232.8 480 228C483.3 223.2 486.7 217.5 490 212C493.3 206.5 497 200.3 500 195C503 189.7 506.2 183.8 508 180C509.8 176.2 510.5 173.3 511 172" stroke="#ff5252" stroke-width="2.8"/>
<path d="M478 241C479.7 238.3 484.7 230.5 488 225C491.3 219.5 495 213.5 498 208C501 202.5 503.8 196 506 192C508.2 188 510.2 185.3 511 184" stroke="#ff5252" stroke-width="2.8"/>
<path d="M363 15.9C364.6 15.3 369.2 14.1 372.8 12.2C376.4 10.3 380.6 6.7 384.5 4.5C388.4 2.3 392.3 0.4 396.2 -1C400.2 -2.4 404.6 -3.4 408 -4C411.5 -4.5 414.4 -4.9 417.2 -4.3C419.9 -3.8 422.1 -2.5 424.5 -0.7C426.9 1.1 428.9 3.4 431.6 6.4C434.2 9.4 437.6 14 440.4 17.1C443.1 20.2 446.8 23.5 448.1 24.8" stroke="#66c8dc" stroke-width="4.8"/>
<path d="M448.1 24.8C449.6 24.7 453.5 25 456.9 24.2C460.4 23.4 464.8 21.4 468.8 20C472.7 18.6 476.5 16.8 480.5 15.9C484.4 15 488.3 14.7 492.3 14.7C496.2 14.7 500.9 15.7 504 15.9C507.1 16.1 509.7 15.9 510.8 15.9" stroke="#66c8dc" stroke-width="3.6"/>
<path d="M363 15.9C364.6 16.1 369.2 16.2 372.8 17.1C376.4 18 380.6 19.8 384.5 21.2C388.4 22.6 392.3 24.1 396.2 25.4C400.2 26.7 404.6 28 408 28.9C411.5 29.8 414.2 30.1 417.2 30.7C420.1 31.3 423 31.8 425.7 32.5C428.4 33.2 431 33.4 433.4 35C435.9 36.6 437.9 39.5 440.4 42C442.8 44.5 446.8 48.7 448.1 50" stroke="#66c8dc" stroke-width="4.8"/>
<path d="M448.1 50C449.6 49.6 453.5 49.8 456.9 47.9C460.4 46 464.8 41.8 468.8 38.4C472.7 35 476.5 30.7 480.5 27.7C484.4 24.7 488.3 22.5 492.3 20.6C496.2 18.7 500.9 17.3 504 16.5C507.1 15.7 509.7 16 510.8 15.9" stroke="#66c8dc" stroke-width="3.6"/>
<path d="M363 15.9C364.2 16.4 367.5 17.8 369.9 19C372.4 20.2 374.8 21.3 377.9 23C381 24.7 385.5 26.2 388.7 29C391.9 31.8 394.6 36.6 396.9 40.1C399.2 43.6 400.4 46.9 402.5 49.9C404.6 52.9 407.1 56.3 409.4 58.3C411.7 60.3 413.3 61.3 416.3 61.8C419.3 62.2 423.5 61.4 427.5 61C431.5 60.6 436.9 60.5 440.4 59.7C443.8 58.9 446.8 56.6 448.1 56" stroke="#66c8dc" stroke-width="4.8"/>
<path d="M448.1 56C450.3 54.3 456.7 48.8 461.1 45.7C465.6 42.6 471.4 39.7 474.9 37.4C478.4 35.1 479 33.9 481.8 31.8C484.7 29.7 488.6 27.1 492 25C495.3 22.9 498.7 20.5 501.9 19C505 17.5 509.3 16.4 510.8 15.9" stroke="#66c8dc" stroke-width="3.6"/>
<path d="M363.1 101.5C365.1 98.5 370.5 89.9 374.8 83.4C379.1 76.9 384.5 68.7 388.7 62.4C392.8 56.1 396.7 49.9 399.7 45.7C402.7 41.5 404.3 39.7 406.7 37.4C409 35.1 411.4 34.5 413.6 31.8C415.7 29.1 417.7 24.5 419.5 21C421.4 17.5 422.9 14 424.5 11C426.2 8 427.8 5.3 429.5 3C431.1 0.7 432.9 -1.3 434.4 -3C435.9 -4.7 437.2 -5.7 438.4 -7C439.6 -8.3 440.9 -10.3 441.4 -11" stroke="#66c8dc" stroke-width="3.6"/>
<path d="M448.1 47C449.6 46.5 453.9 44 457.2 44C460.6 44 465 45.4 468 47.1C470.9 48.8 472.6 51.3 474.9 54.1C477.2 56.9 479.6 60.5 481.8 63.8C484.1 67 486.4 70.1 488.7 73.6C491 77.1 493.3 81.2 495.6 84.7C498 88.2 500.3 91.7 502.6 94.5C504.9 97.3 507.8 99.8 509.5 101.5C511.2 103.2 512.3 104.4 512.8 105" stroke="#66c8dc" stroke-width="3.6"/>
<path d="M363 54.1C364.1 53.2 366.9 51.5 369.3 48.5C371.8 45.5 375.5 39.2 377.6 36C379.7 32.8 380 31.8 381.8 29C383.5 26.2 385.8 22 387.8 19C389.8 16 391.4 13.5 393.8 11C396.1 8.5 399 5.8 401.7 4C404.3 2.2 407 0.8 409.6 0C412.2 -0.8 414.9 -1.2 417.2 -1C419.5 -0.8 422.5 0.7 423.5 1" stroke="#66c8dc" stroke-width="3.6"/>
<path d="M363 15.9C365.6 16.7 374.1 18 378.7 20.6C383.2 23.2 386.9 28.3 390.4 31.3C393.9 34.3 396.9 36.8 399.8 38.4C402.7 40 405.1 40.3 408 40.8C410.9 41.3 414.2 41.6 417.2 41.4C420.1 41.2 422.9 41.1 425.7 39.6C428.5 38.1 431.5 34.6 433.9 32.5C436.4 30.4 438 28.6 440.4 27C442.7 25.4 445.4 25.4 448.1 23C450.9 20.6 453.9 15.3 456.9 12.3C460 9.3 463.4 6.8 466.4 5.2C469.3 3.6 471.7 3.1 474.6 2.9C477.6 2.7 481.1 3 484 4C487 5 489.7 6.8 492.3 8.8C494.8 10.8 497 13.7 499.3 15.9C501.7 18.1 504.4 20.4 506.4 21.8C508.3 23.2 510.1 23.8 510.8 24.2" stroke="#66c8dc" stroke-width="3.6"/>
<path d="M473.1 9C474.3 9.7 477.9 11.1 480.1 13C482.3 14.9 484.3 17.8 486.3 20.6C488.3 23.5 490.1 26.4 492.3 30.1C494.4 33.9 497 39.3 499.3 43.1C501.7 46.8 504.4 50.5 506.4 52.6C508.3 54.7 510.1 55 510.8 55.5" stroke="#66c8dc" stroke-width="3.6"/>
<path d="M362.6 152.2C365.3 152.4 372.7 152 378.9 153.2C385.1 154.4 393.5 157.9 399.8 159.5C406.1 161.1 411.4 163.2 416.6 162.7C421.8 162.2 426 158.7 431.2 156.4C436.4 154.1 442.8 150.7 448 149.1C453.2 147.5 456.7 147.5 462.6 147C468.5 146.5 476.5 145.6 483.5 145.9C490.5 146.2 499.8 148.2 504.4 149.1C509 150 509.9 150.8 511 151.2" stroke="#66c8dc" stroke-width="4.8"/>
<path d="M362.6 158C365.3 158 372.7 156.7 378.9 158C385.1 159.3 393.5 164.3 399.8 166C406.1 167.7 411.4 168.7 416.6 168C421.8 167.3 426 164.3 431.2 162C436.4 159.7 441.4 154.7 448 154.3C454.6 153.9 464.1 158.8 470.9 159.7C477.7 160.6 482.1 160.6 488.8 159.7C495.5 158.8 507.3 155.2 511 154.3" stroke="#66c8dc" stroke-width="4.8"/>
<path d="M362.7 163.3C365.2 164.8 372.5 169.6 378 172.3C383.5 175 389.9 178.4 395.9 179.5C401.9 180.6 407.3 178.8 413.8 178.6C420.3 178.4 428.5 178.6 435 178.6C441.5 178.6 446.9 178.9 452.9 178.6C458.9 178.3 464.9 177.9 470.9 176.8C476.9 175.8 482.1 174 488.8 172.3C495.5 170.7 507.3 167.8 511 166.9" stroke="#66c8dc" stroke-width="4.8"/>
<path d="M362.7 166C365.2 167.8 372.5 173.2 378 177C383.5 180.8 389.9 185.7 395.9 189C401.9 192.3 407.9 194 413.8 197C419.7 200 425.3 203.3 431 207C436.7 210.7 442.7 215.6 448 219C453.3 222.4 456.7 224.7 462.6 227.5C468.5 230.3 476.5 234 483.5 235.9C490.5 237.8 499.6 238.3 504.4 239C509.1 239.7 510.7 239.8 512 240" stroke="#66c8dc" stroke-width="4.8"/>
<path d="M362.7 217.1C365.2 216.8 374 216.8 378 215.3C382 213.8 383.9 210.9 386.9 208.2C389.9 205.5 392.9 202.8 395.9 199.2C398.9 195.6 401.8 189.6 404.8 186.6C407.8 183.6 409.6 181.9 413.8 181.3C418 180.7 424.4 182.7 430 183C435.6 183.3 444.7 183 447.6 183" stroke="#66c8dc" stroke-width="4.8"/>
<path d="M362.7 192C365.2 192 373.1 191.2 378 192C382.9 192.8 387.5 195.2 392 197C396.5 198.8 402.8 202 405 203" stroke="#66c8dc" stroke-width="4.8"/>
<path d="M362.7 219C366.7 220.2 379.9 223.1 386.9 226.1C393.9 229.1 400.9 234.4 404.8 236.9C408.7 239.4 407.5 238.8 410 241C412.5 243.2 418.3 248.5 420 250" stroke="#66c8dc" stroke-width="4.8"/>
<path d="M378 183C379.5 185.7 383.9 193.5 386.9 199.2C389.9 204.9 392.9 211.4 395.9 217.1C398.9 222.8 402.4 228.7 404.8 233.3C407.2 238 409.1 243.1 410 245" stroke="#66c8dc" stroke-width="4.8"/>
<path d="M386.9 236.9C389.9 234.8 398.8 227.9 404.8 224.3C410.8 220.7 417.8 217.4 422.8 215.3C427.8 213.2 430.9 210.8 435 211.7C439.1 212.6 443.1 217.1 447.6 220.7C452.1 224.3 458 230.3 461.9 233.3C465.8 236.3 468.2 237.1 470.9 238.7C473.6 240.3 476.8 242.3 478 243" stroke="#66c8dc" stroke-width="4.8"/>
<path d="M447.6 183C450 183.3 458 183.6 461.9 184.8C465.8 186 467.9 187.8 470.9 190.2C473.9 192.6 476.8 195.9 479.8 199.2C482.8 202.5 485.8 207 488.8 210C491.8 213 494.1 215.3 497.8 217.1C501.5 218.9 508.8 220.1 511 220.7" stroke="#66c8dc" stroke-width="4.8"/>
<path d="M440 224C441.3 223.2 444 221 447.6 218.9C451.2 216.8 456.5 215.9 461.9 211.7C467.3 207.5 475.3 198.3 479.8 193.8C484.3 189.3 485.8 187.8 488.8 184.8C491.8 181.8 494.1 179.2 497.8 175.9C501.5 172.6 508.8 166.9 511 165.1" stroke="#66c8dc" stroke-width="4.8"/>
<path d="M472 244C473.3 243.1 475.5 241.7 479.8 238.7C484.1 235.7 492.6 229.4 497.8 226.1C503 222.8 508.8 220.2 511 219" stroke="#66c8dc" stroke-width="4.8"/>
<path d="M490 195C491.3 194.8 494.3 194.2 497.8 193.8C501.3 193.5 508.8 193.1 511 192.9" stroke="#66c8dc" stroke-width="4.8"/>
<path d="M362.7 230C364.8 231 370.8 233.8 375 236C379.2 238.2 385.8 241.8 388 243" stroke="#66c8dc" stroke-width="4.8"/>
<g stroke="#111" stroke-width="1.7" stroke-dasharray="2.6 2" stroke-linecap="butt">
<path d="M363 89.7C364.1 88.3 366.7 85.1 369.4 81.1C372 77 375.1 70.4 378.7 65.4C382.3 60.4 387.1 54.4 391.2 51.3C395.4 48.2 399.4 47.8 403.7 46.6C407.9 45.4 413.9 44.2 417 44.2C420.1 44.2 420.1 44.1 422.3 46.6C424.5 49.1 427.6 53.9 430.2 59.1C432.8 64.3 434.9 72 437.9 78C441 84 445 94.2 448.3 95.2C451.6 96.2 454.5 88.9 457.9 84.2C461.4 79.5 464.9 71.8 468.9 67C472.8 62.2 478.3 57 481.4 55.2C484.5 53.4 485 53.8 487.5 56C490.1 58.2 494.3 64.4 496.9 68.6C499.5 72.8 500.9 77.7 503.1 81.1C505.4 84.5 509 87.7 510.2 89"/>
<path d="M363 81.9C365.1 81.5 371.4 80.2 375.6 79.5C379.8 78.8 384.4 77.6 388 77.7C391.7 77.8 394.3 78.4 397.4 80.3C400.5 82.2 403.6 86.8 406.8 89C410.1 91.2 413.9 92.7 417 93.7C420.1 94.7 422.6 94.4 425.5 95.2C428.5 96 432 97.8 434.6 98.4C437.1 99 438.5 99.4 440.8 98.9C443.1 98.4 445.9 95.4 448.3 95.2C450.6 95 451.9 98.5 454.8 98C457.8 97.5 462.4 94.6 465.8 92.1C469.2 89.5 471.7 85 475.1 82.7C478.5 80.4 481.9 78.4 486 78C490.2 77.6 496 79.6 500.1 80.3C504.1 81 508.5 81.6 510.2 81.9"/>
<path d="M434.4 25.5C435.4 26.1 438.3 28.3 440.5 29.3C442.8 30.3 445.7 31.5 448 31.5C450.2 31.5 452.1 30.5 453.9 29.5C455.8 28.5 458.3 26.2 459.1 25.5"/>
<path d="M427.1 25.5C428 26.4 430.8 29.1 432.6 31C434.3 32.9 435.1 34.8 437.7 36.7C440.4 38.6 444.8 42.4 448.5 42.3C452.2 42.1 457.4 37.8 460 35.8C462.7 33.8 463 32.2 464.4 30.5C465.7 28.8 467.4 26.3 468.1 25.5"/>
<path d="M448.1 24.8C449.6 24.7 453.5 25 456.9 24.2C460.4 23.4 464.8 21.4 468.8 20C472.7 18.6 476.5 16.8 480.5 15.9C484.4 15 488.3 14.7 492.3 14.7C496.2 14.7 500.9 15.7 504 15.9C507.1 16.1 509.7 15.9 510.8 15.9"/>
<path d="M448.1 50C449.6 49.6 453.5 49.8 456.9 47.9C460.4 46 464.8 41.8 468.8 38.4C472.7 35 476.5 30.7 480.5 27.7C484.4 24.7 488.3 22.5 492.3 20.6C496.2 18.7 500.9 17.3 504 16.5C507.1 15.7 509.7 16 510.8 15.9"/>
<path d="M448.1 56C450.3 54.3 456.7 48.8 461.1 45.7C465.6 42.6 471.4 39.7 474.9 37.4C478.4 35.1 479 33.9 481.8 31.8C484.7 29.7 488.6 27.1 492 25C495.3 22.9 498.7 20.5 501.9 19C505 17.5 509.3 16.4 510.8 15.9"/>
<path d="M363.1 101.5C365.1 98.5 370.5 89.9 374.8 83.4C379.1 76.9 384.5 68.7 388.7 62.4C392.8 56.1 396.7 49.9 399.7 45.7C402.7 41.5 404.3 39.7 406.7 37.4C409 35.1 411.4 34.5 413.6 31.8C415.7 29.1 417.7 24.5 419.5 21C421.4 17.5 422.9 14 424.5 11C426.2 8 427.8 5.3 429.5 3C431.1 0.7 432.9 -1.3 434.4 -3C435.9 -4.7 437.2 -5.7 438.4 -7C439.6 -8.3 440.9 -10.3 441.4 -11"/>
<path d="M448.1 47C449.6 46.5 453.9 44 457.2 44C460.6 44 465 45.4 468 47.1C470.9 48.8 472.6 51.3 474.9 54.1C477.2 56.9 479.6 60.5 481.8 63.8C484.1 67 486.4 70.1 488.7 73.6C491 77.1 493.3 81.2 495.6 84.7C498 88.2 500.3 91.7 502.6 94.5C504.9 97.3 507.8 99.8 509.5 101.5C511.2 103.2 512.3 104.4 512.8 105"/>
<path d="M363 54.1C364.1 53.2 366.9 51.5 369.3 48.5C371.8 45.5 375.5 39.2 377.6 36C379.7 32.8 380 31.8 381.8 29C383.5 26.2 385.8 22 387.8 19C389.8 16 391.4 13.5 393.8 11C396.1 8.5 399 5.8 401.7 4C404.3 2.2 407 0.8 409.6 0C412.2 -0.8 414.9 -1.2 417.2 -1C419.5 -0.8 422.5 0.7 423.5 1"/>
<path d="M363 15.9C365.6 16.7 374.1 18 378.7 20.6C383.2 23.2 386.9 28.3 390.4 31.3C393.9 34.3 396.9 36.8 399.8 38.4C402.7 40 405.1 40.3 408 40.8C410.9 41.3 414.2 41.6 417.2 41.4C420.1 41.2 422.9 41.1 425.7 39.6C428.5 38.1 431.5 34.6 433.9 32.5C436.4 30.4 438 28.6 440.4 27C442.7 25.4 445.4 25.4 448.1 23C450.9 20.6 453.9 15.3 456.9 12.3C460 9.3 463.4 6.8 466.4 5.2C469.3 3.6 471.7 3.1 474.6 2.9C477.6 2.7 481.1 3 484 4C487 5 489.7 6.8 492.3 8.8C494.8 10.8 497 13.7 499.3 15.9C501.7 18.1 504.4 20.4 506.4 21.8C508.3 23.2 510.1 23.8 510.8 24.2"/>
<path d="M473.1 9C474.3 9.7 477.9 11.1 480.1 13C482.3 14.9 484.3 17.8 486.3 20.6C488.3 23.5 490.1 26.4 492.3 30.1C494.4 33.9 497 39.3 499.3 43.1C501.7 46.8 504.4 50.5 506.4 52.6C508.3 54.7 510.1 55 510.8 55.5"/>
<path d="M365 175C366.2 176.7 369.5 180.8 372 185C374.5 189.2 377.3 195 380 200C382.7 205 385.5 210.3 388 215C390.5 219.7 392.7 223.7 395 228C397.3 232.3 400.8 238.8 402 241"/>
<path d="M368 170C369.3 172.5 373.3 180 376 185C378.7 190 381.3 194.8 384 200C386.7 205.2 389.3 210.7 392 216C394.7 221.3 398 227.8 400 232C402 236.2 403.3 239.5 404 241"/>
<path d="M366 200C367.5 202.5 371.8 210 375 215C378.2 220 382.2 225.7 385 230C387.8 234.3 390.8 239.2 392 241"/>
<path d="M470 241C471.7 238.8 476.7 232.8 480 228C483.3 223.2 486.7 217.5 490 212C493.3 206.5 497 200.3 500 195C503 189.7 506.2 183.8 508 180C509.8 176.2 510.5 173.3 511 172"/>
<path d="M478 241C479.7 238.3 484.7 230.5 488 225C491.3 219.5 495 213.5 498 208C501 202.5 503.8 196 506 192C508.2 188 510.2 185.3 511 184"/>
<path d="M485 241C486.7 238.8 491.7 233.2 495 228C498.3 222.8 502.3 214.7 505 210C507.7 205.3 510 201.7 511 200"/>
</g></g>
<path d="M273.5 97.4H288" stroke="#111" stroke-width="2.4"/>
<circle cx="280.3" cy="109.5" r="4.8" fill="#66c8dc"/>
<circle cx="280.3" cy="123.4" r="4.8" fill="#ff5252"/>
<text x="292.5" y="101.8" font-size="13.5" textLength="14.5" lengthAdjust="spacingAndGlyphs">HJ</text>
<text x="292.5" y="115" font-size="13.5" textLength="35" lengthAdjust="spacingAndGlyphs">In<tspan font-size="9" dy="3">2</tspan><tspan dy="-3">Se</tspan><tspan font-size="9" dy="3">3</tspan></text>
<text x="292.5" y="129" font-size="13.5" textLength="42.5" lengthAdjust="spacingAndGlyphs">InSiTe<tspan font-size="9" dy="3">3</tspan></text>
<path d="M49 279L52 283L50 288L53 293L50 300L49 310L52 330L50 350L49 360L49 400L52 410L60 415L66 420L56 428L52 440L70 446L73 450L56 455L60 462L76 470L66 478L82 485L104 488L70 492" stroke="#ff5252" stroke-width="2.4" stroke-dasharray="0.1 3.6" stroke-linecap="round" fill="none" clip-path="url(#clipe)"/>
<path d="M50 405L56 412L62 418L54 424L60 432L53 440L64 448L58 456L70 462L62 470L80 476L72 482L90 488L78 494" stroke="#ff5252" stroke-width="2.4" stroke-dasharray="0.1 3.6" stroke-linecap="round" fill="none" clip-path="url(#clipe)"/>
<path d="M50 400L55 410L52 420L57 432L52 444L56 456L53 468L62 476L70 484L66 492" stroke="#98c86a" stroke-width="2.4" stroke-dasharray="0.1 3.6" stroke-linecap="round" fill="none" clip-path="url(#clipe)"/>
<path d="M84.7 278.5L62.3 286.5L67.5 289.6L51.8 296.4L50 305L50.5 320L51 335L50 345L49.5 355L49 380L49 460L52 470L58 478L54 486L60 494" stroke="#98c86a" stroke-width="2.2" stroke-linejoin="round" fill="none" clip-path="url(#clipe)"/>
<path d="M52 279L60 281L55 285L52 292L50 300L49 330" stroke="#98c86a" stroke-width="2.4" stroke-dasharray="0.1 3.6" stroke-linecap="round" fill="none" clip-path="url(#clipe)"/>
<path d="M50 468L60 474L66 482L58 488L64 494" stroke="#98c86a" stroke-width="2.4" stroke-dasharray="0.1 3.6" stroke-linecap="round" fill="none" clip-path="url(#clipe)"/>
<path d="M60 278L52 286L50.5 291L52 300L51 310L52 320L55.3 337.4L51 345L49.5 355L49 380L49 465L55 472L64 479L66 484L58 490L55 494" stroke="#66c8dc" stroke-width="2.2" stroke-linejoin="round" fill="none" clip-path="url(#clipe)"/>
<path d="M74 279L58.6 283L62 287L76.4 296.4L66 300L61 304L59 312L58 320L60 324L103.5 329.6L70.8 332.2L62 338L65 344L89.7 346.8L70.8 349.4L50.2 352" stroke="#66c8dc" stroke-width="2.4" stroke-dasharray="0.1 3.6" stroke-linecap="round" fill="none" clip-path="url(#clipe)"/>
<path d="M84 280L65 288L72 293L70 298L68 308L66 318L68 326" stroke="#66c8dc" stroke-width="2.4" stroke-dasharray="0.1 3.6" stroke-linecap="round" fill="none" clip-path="url(#clipe)"/>
<path d="M68 336L80 334L85 340L78 344" stroke="#66c8dc" stroke-width="2.4" stroke-dasharray="0.1 3.6" stroke-linecap="round" fill="none" clip-path="url(#clipe)"/>
<path d="M48.5 282L52 288L54.4 290.7L104.6 296.4L72.7 303L81.6 306.4L72.2 312.1L68.2 320.5L70.8 322.7L168.8 328.8L165.4 332.2L110.4 335.6L107.8 339.1L154.2 346L122.4 349.4L50.2 355.4L49 357" stroke="#ff5252" stroke-width="2.3" stroke-linejoin="round" fill="none" clip-path="url(#clipe)"/>
<path d="M49 386L49.5 392L86 395L137 398.4L185 402.4" stroke="#66c8dc" stroke-width="2.4" stroke-dasharray="0.1 3.6" stroke-linecap="round" fill="none" clip-path="url(#clipe)"/>
<path d="M185 402.4L147 405.5L118.5 408.6L65 409.6L55 412" stroke="#66c8dc" stroke-width="2.4" stroke-dasharray="0.1 3.6" stroke-linecap="round" fill="none" clip-path="url(#clipe)"/>
<path d="M85 418L116 413.7L159 415.7" stroke="#66c8dc" stroke-width="2.4" stroke-dasharray="0.1 3.6" stroke-linecap="round" fill="none" clip-path="url(#clipe)"/>
<path d="M90 418.8L130 420L159 422.9L130 426L96 429" stroke="#66c8dc" stroke-width="2.4" stroke-dasharray="0.1 3.6" stroke-linecap="round" fill="none" clip-path="url(#clipe)"/>
<path d="M96 431L130 432L192 435.1L196 440" stroke="#66c8dc" stroke-width="2.4" stroke-dasharray="0.1 3.6" stroke-linecap="round" fill="none" clip-path="url(#clipe)"/>
<path d="M96 434L112 440L143 445.3L120 446" stroke="#66c8dc" stroke-width="2.4" stroke-dasharray="0.1 3.6" stroke-linecap="round" fill="none" clip-path="url(#clipe)"/>
<path d="M182 445.3L192 450.4L150 452L114 455.5L71.5 465.7" stroke="#66c8dc" stroke-width="2.4" stroke-dasharray="0.1 3.6" stroke-linecap="round" fill="none" clip-path="url(#clipe)"/>
<path d="M60 470L98 467.8L147 462.7" stroke="#66c8dc" stroke-width="2.4" stroke-dasharray="0.1 3.6" stroke-linecap="round" fill="none" clip-path="url(#clipe)"/>
<path d="M89.9 474.9L140 474L194 475.9" stroke="#66c8dc" stroke-width="2.4" stroke-dasharray="0.1 3.6" stroke-linecap="round" fill="none" clip-path="url(#clipe)"/>
<path d="M70 480L100 485L128.7 488.2" stroke="#66c8dc" stroke-width="2.4" stroke-dasharray="0.1 3.6" stroke-linecap="round" fill="none" clip-path="url(#clipe)"/>
<path d="M80 492L140 492L196 490.2" stroke="#66c8dc" stroke-width="2.4" stroke-dasharray="0.1 3.6" stroke-linecap="round" fill="none" clip-path="url(#clipe)"/>
<path d="M56 400L52 395" stroke="#66c8dc" stroke-width="2.4" stroke-dasharray="0.1 3.6" stroke-linecap="round" fill="none" clip-path="url(#clipe)"/>
<path d="M210 278L208 290L212 300L209 310L211 320L208 335L210 345L207 360L206.5 380L206.5 420L207.5 440L206.5 460L207.5 480L206.5 494" stroke="#3450a0" stroke-width="2.2" stroke-linejoin="round" fill="none" clip-path="url(#clipf)"/>
<path d="M213 278L211 295L214 310L210 325L213 340L209 350L207 360L207 400L208 420L207 494" stroke="#66c8dc" stroke-width="2" stroke-linejoin="round" fill="none" clip-path="url(#clipf)"/>
<path d="M209 278L208 300L209 330L208 350L207.5 380L208 470L209 494" stroke="#98c86a" stroke-width="1.8" stroke-linejoin="round" fill="none" clip-path="url(#clipf)"/>
<path d="M233 278L243 281L235 290L241 292L299 296L317 300.6L297 302L263 311L261 315L257 318L259 322L250 326L257 333L257 336L233 345L211 348L207 351L207 360" stroke="#f5e614" stroke-width="2.3" stroke-linejoin="round" fill="none" clip-path="url(#clipf)"/>
<path d="M215 278L227 285L218 290L216 295L215 311L253 318L227 326L237 334L211 341L208 346L207 350" stroke="#ff5252" stroke-width="2.3" stroke-linejoin="round" fill="none" clip-path="url(#clipf)"/>
<path d="M215 278L221 283L218 293L239 296L250 300L243 304L233 310L229 315L231 322L227 331L219 339L213 347L208 350" stroke="#3450a0" stroke-width="2.6" stroke-dasharray="0.1 3.6" stroke-linecap="round" fill="none" clip-path="url(#clipf)"/>
<path d="M223 309L225 317L217 325L219 333L213 341" stroke="#3450a0" stroke-width="2.6" stroke-dasharray="0.1 3.6" stroke-linecap="round" fill="none" clip-path="url(#clipf)"/>
<path d="M228 300L236 302L230 306" stroke="#3450a0" stroke-width="2.6" stroke-dasharray="0.1 3.6" stroke-linecap="round" fill="none" clip-path="url(#clipf)"/>
<path d="M212 280L218 290L214 300L220 315L215 330L212 345L209 360" stroke="#66c8dc" stroke-width="2.4" stroke-dasharray="0.1 3.6" stroke-linecap="round" fill="none" clip-path="url(#clipf)"/>
<path d="M207 352L208 362L207 372L208 382" stroke="#f5e614" stroke-width="2.8" stroke-dasharray="0.1 3.6" stroke-linecap="round" fill="none" clip-path="url(#clipf)"/>
<path d="M209 382L244 386L252 389L234 394L223 404.5L244 402.4L229.5 412.7L244 414.7L301 423.9L254 427L264 435L223 439L219 451" stroke="#66c8dc" stroke-width="2.4" stroke-dasharray="0.1 3.6" stroke-linecap="round" fill="none" clip-path="url(#clipf)"/>
<path d="M219 451L235 458L280.5 472.9L244 478L223 486L233.6 492" stroke="#66c8dc" stroke-width="2.4" stroke-dasharray="0.1 3.6" stroke-linecap="round" fill="none" clip-path="url(#clipf)"/>
<path d="M230 420L250 416L262 420" stroke="#66c8dc" stroke-width="2.4" stroke-dasharray="0.1 3.6" stroke-linecap="round" fill="none" clip-path="url(#clipf)"/>
<path d="M215 470L235 468L250 466" stroke="#66c8dc" stroke-width="2.4" stroke-dasharray="0.1 3.6" stroke-linecap="round" fill="none" clip-path="url(#clipf)"/>
<path d="M209 416.7L223 427L264 431L321.4 434L345.9 435L305 439L244 443L284.6 446L233.6 455.5L268 460.6L233.6 467.7L264 471.8L244 480L227.5 486L258 491" stroke="#3450a0" stroke-width="2.6" stroke-dasharray="0.1 3.6" stroke-linecap="round" fill="none" clip-path="url(#clipf)"/>
<path d="M215 425L240 428L280 432L325 435.5" stroke="#3450a0" stroke-width="2.6" stroke-dasharray="0.1 3.6" stroke-linecap="round" fill="none" clip-path="url(#clipf)"/>
<path d="M225 440L255 444L285 448L250 452" stroke="#3450a0" stroke-width="2.6" stroke-dasharray="0.1 3.6" stroke-linecap="round" fill="none" clip-path="url(#clipf)"/>
<path d="M222 470L240 474L230 480L220 490" stroke="#3450a0" stroke-width="2.6" stroke-dasharray="0.1 3.6" stroke-linecap="round" fill="none" clip-path="url(#clipf)"/>
<path d="M209 414L230 420L260 426L300 430L345 434" stroke="#3450a0" stroke-width="2.6" stroke-dasharray="0.1 3.6" stroke-linecap="round" fill="none" clip-path="url(#clipf)"/>
<path d="M215 432L250 434L290 437L320 438" stroke="#3450a0" stroke-width="2.6" stroke-dasharray="0.1 3.6" stroke-linecap="round" fill="none" clip-path="url(#clipf)"/>
<path d="M225 445L260 448L290 447" stroke="#3450a0" stroke-width="2.6" stroke-dasharray="0.1 3.6" stroke-linecap="round" fill="none" clip-path="url(#clipf)"/>
<path d="M230 460L250 470L275 476" stroke="#3450a0" stroke-width="2.6" stroke-dasharray="0.1 3.6" stroke-linecap="round" fill="none" clip-path="url(#clipf)"/>
<path d="M225 485L250 488L262 492" stroke="#3450a0" stroke-width="2.6" stroke-dasharray="0.1 3.6" stroke-linecap="round" fill="none" clip-path="url(#clipf)"/>
<path d="M210 395L230 400L245 402" stroke="#66c8dc" stroke-width="2.4" stroke-dasharray="0.1 3.6" stroke-linecap="round" fill="none" clip-path="url(#clipf)"/>
<path d="M215 425L240 440L265 455L280 470" stroke="#66c8dc" stroke-width="2.4" stroke-dasharray="0.1 3.6" stroke-linecap="round" fill="none" clip-path="url(#clipf)"/>
<path d="M209 400L214 410L210 420L216 430L212 440L218 450L213 460L222 470L215 480L224 488L218 494" stroke="#ff5252" stroke-width="2.4" stroke-dasharray="0.1 3.6" stroke-linecap="round" fill="none" clip-path="url(#clipf)"/>
<path d="M210 395L215 405L211 415L218 425L213 435L220 445L214 455L221 465L214 475L220 485L213 494" stroke="#f5e614" stroke-width="2.8" stroke-dasharray="0.1 3.6" stroke-linecap="round" fill="none" clip-path="url(#clipf)"/>
<path d="M212 400L217 415L213 430L219 448L215 462L226 478L218 494" stroke="#f5e614" stroke-width="2.8" stroke-dasharray="0.1 3.6" stroke-linecap="round" fill="none" clip-path="url(#clipf)"/>
<path d="M210 278L208 290L212 300L209 310L211 320L208 335L210 345L207 360L206.5 380L206.5 420L207.5 440L206.5 460L207.5 480L206.5 494" stroke="#3450a0" stroke-width="2.2" stroke-linejoin="round" fill="none" clip-path="url(#clipf)"/>
<path d="M368 278L366 300L369 315L366 330L367 345L365 360L364 380L364 420L364.5 428L367 431L364.5 434L364 460L364.5 494" stroke="#3450a0" stroke-width="2.2" stroke-linejoin="round" fill="none" clip-path="url(#clipg)"/>
<path d="M372 278L368 300L366 320L365 360L364 420" stroke="#66c8dc" stroke-width="1.8" stroke-linejoin="round" fill="none" clip-path="url(#clipg)"/>
<path d="M366 278L365 300L364.5 330L364 494" stroke="#98c86a" stroke-width="1.6" stroke-linejoin="round" fill="none" clip-path="url(#clipg)"/>
<path d="M436 278L420 281L416 282L420 285L418 289L422 293L408 303L390 307L392 311L372 317L368 319L366 325" stroke="#f5e614" stroke-width="2.3" stroke-linejoin="round" fill="none" clip-path="url(#clipg)"/>
<path d="M372 293L383 296L374 300L372 311L370 320L410 330L378 338L400 348L366 355L364 358" stroke="#ff5252" stroke-width="2.3" stroke-linejoin="round" fill="none" clip-path="url(#clipg)"/>
<path d="M368 325L382 330L372 334L372 343L376 347L368 351L365 355" stroke="#66c8dc" stroke-width="2" stroke-linejoin="round" fill="none" clip-path="url(#clipg)"/>
<path d="M378 279L388 280L390 287L386 295L386 303L376 309L370 317" stroke="#3450a0" stroke-width="2.6" stroke-dasharray="0.1 3.6" stroke-linecap="round" fill="none" clip-path="url(#clipg)"/>
<path d="M380 283L380 289L377 296L374 305" stroke="#3450a0" stroke-width="2.6" stroke-dasharray="0.1 3.6" stroke-linecap="round" fill="none" clip-path="url(#clipg)"/>
<path d="M365 280L368 290L366 300L369 310L366 320L368 330L365 340" stroke="#f5e614" stroke-width="2.8" stroke-dasharray="0.1 3.6" stroke-linecap="round" fill="none" clip-path="url(#clipg)"/>
<path d="M364 393L400.8 398.4L462 402.4L503 404.5" stroke="#3450a0" stroke-width="2.6" stroke-dasharray="0.1 3.6" stroke-linecap="round" fill="none" clip-path="url(#clipg)"/>
<path d="M370 405.5L421 409.6L486.5 411.6" stroke="#3450a0" stroke-width="2.6" stroke-dasharray="0.1 3.6" stroke-linecap="round" fill="none" clip-path="url(#clipg)"/>
<path d="M370 422.8L421 416.7L462 406.5" stroke="#3450a0" stroke-width="2.6" stroke-dasharray="0.1 3.6" stroke-linecap="round" fill="none" clip-path="url(#clipg)"/>
<path d="M380 428L441.6 429L509 430" stroke="#3450a0" stroke-width="2.6" stroke-dasharray="0.1 3.6" stroke-linecap="round" fill="none" clip-path="url(#clipg)"/>
<path d="M380 438L421 437L509 434" stroke="#3450a0" stroke-width="2.6" stroke-dasharray="0.1 3.6" stroke-linecap="round" fill="none" clip-path="url(#clipg)"/>
<path d="M380 457.5L400.8 468.8L447.8 474.3" stroke="#3450a0" stroke-width="2.6" stroke-dasharray="0.1 3.6" stroke-linecap="round" fill="none" clip-path="url(#clipg)"/>
<path d="M390.6 471.8L421 480L400.8 490" stroke="#3450a0" stroke-width="2.6" stroke-dasharray="0.1 3.6" stroke-linecap="round" fill="none" clip-path="url(#clipg)"/>
<path d="M385 445L400 452L392 462" stroke="#3450a0" stroke-width="2.6" stroke-dasharray="0.1 3.6" stroke-linecap="round" fill="none" clip-path="url(#clipg)"/>
<path d="M375 480L395 486L380 494" stroke="#3450a0" stroke-width="2.6" stroke-dasharray="0.1 3.6" stroke-linecap="round" fill="none" clip-path="url(#clipg)"/>
<path d="M372 403L420 404L470 406L500 405" stroke="#3450a0" stroke-width="2.6" stroke-dasharray="0.1 3.6" stroke-linecap="round" fill="none" clip-path="url(#clipg)"/>
<path d="M380 415L430 412L470 409L488 411" stroke="#3450a0" stroke-width="2.6" stroke-dasharray="0.1 3.6" stroke-linecap="round" fill="none" clip-path="url(#clipg)"/>
<path d="M375 420L420 418L462 414" stroke="#3450a0" stroke-width="2.6" stroke-dasharray="0.1 3.6" stroke-linecap="round" fill="none" clip-path="url(#clipg)"/>
<path d="M385 426L440 428L490 431" stroke="#3450a0" stroke-width="2.6" stroke-dasharray="0.1 3.6" stroke-linecap="round" fill="none" clip-path="url(#clipg)"/>
<path d="M382 440L430 436L509 432" stroke="#3450a0" stroke-width="2.6" stroke-dasharray="0.1 3.6" stroke-linecap="round" fill="none" clip-path="url(#clipg)"/>
<path d="M380 450L400 460L430 470L448 474" stroke="#3450a0" stroke-width="2.6" stroke-dasharray="0.1 3.6" stroke-linecap="round" fill="none" clip-path="url(#clipg)"/>
<path d="M395 480L420 485L440 486" stroke="#3450a0" stroke-width="2.6" stroke-dasharray="0.1 3.6" stroke-linecap="round" fill="none" clip-path="url(#clipg)"/>
<path d="M372 397L390 400L430 401" stroke="#3450a0" stroke-width="2.6" stroke-dasharray="0.1 3.6" stroke-linecap="round" fill="none" clip-path="url(#clipg)"/>
<path d="M366 396L420 400L470 403L505 405.5" stroke="#3450a0" stroke-width="2.6" stroke-dasharray="0.1 3.6" stroke-linecap="round" fill="none" clip-path="url(#clipg)"/>
<path d="M375 409L430 408L480 407L498 406" stroke="#3450a0" stroke-width="2.6" stroke-dasharray="0.1 3.6" stroke-linecap="round" fill="none" clip-path="url(#clipg)"/>
<path d="M378 431L440 431L510 433" stroke="#3450a0" stroke-width="2.6" stroke-dasharray="0.1 3.6" stroke-linecap="round" fill="none" clip-path="url(#clipg)"/>
<path d="M378 435L440 434L510 436" stroke="#3450a0" stroke-width="2.6" stroke-dasharray="0.1 3.6" stroke-linecap="round" fill="none" clip-path="url(#clipg)"/>
<path d="M372 425L400 423L440 420L470 417" stroke="#3450a0" stroke-width="2.6" stroke-dasharray="0.1 3.6" stroke-linecap="round" fill="none" clip-path="url(#clipg)"/>
<path d="M390 465L420 472L446 477" stroke="#3450a0" stroke-width="2.6" stroke-dasharray="0.1 3.6" stroke-linecap="round" fill="none" clip-path="url(#clipg)"/>
<path d="M385 455L410 462L440 470" stroke="#3450a0" stroke-width="2.6" stroke-dasharray="0.1 3.6" stroke-linecap="round" fill="none" clip-path="url(#clipg)"/>
<path d="M364 393L405 402.4L386.5 412.7L392.7 418.8L384.5 433L390.6 451.4L376.3 457.5L386.5 476L392.7 486L380.4 491L382 494" stroke="#66c8dc" stroke-width="2.2" stroke-linejoin="round" fill="none" clip-path="url(#clipg)"/>
<path d="M386 440L405 446L421 451.4" stroke="#66c8dc" stroke-width="2.4" stroke-dasharray="0.1 3.6" stroke-linecap="round" fill="none" clip-path="url(#clipg)"/>
<path d="M392 478L420 482L451.8 486" stroke="#66c8dc" stroke-width="2.4" stroke-dasharray="0.1 3.6" stroke-linecap="round" fill="none" clip-path="url(#clipg)"/>
<path d="M395 420L410 425L430 432" stroke="#66c8dc" stroke-width="2.4" stroke-dasharray="0.1 3.6" stroke-linecap="round" fill="none" clip-path="url(#clipg)"/>
<path d="M375 405L400 408L420 412" stroke="#66c8dc" stroke-width="2.4" stroke-dasharray="0.1 3.6" stroke-linecap="round" fill="none" clip-path="url(#clipg)"/>
<path d="M385 445L410 450L420 452" stroke="#66c8dc" stroke-width="2.4" stroke-dasharray="0.1 3.6" stroke-linecap="round" fill="none" clip-path="url(#clipg)"/>
<path d="M378 460L400 470L430 482" stroke="#66c8dc" stroke-width="2.4" stroke-dasharray="0.1 3.6" stroke-linecap="round" fill="none" clip-path="url(#clipg)"/>
<path d="M366 400L372 410L368 420L375 430L369 440L376 450L370 460L378 470L372 480L380 490" stroke="#f5e614" stroke-width="3.0" stroke-dasharray="0.1 3.6" stroke-linecap="round" fill="none" clip-path="url(#clipg)"/>
<path d="M368 405L378 415L371 425L380 438L373 448L382 462L375 475L384 486L376 494" stroke="#f5e614" stroke-width="3.0" stroke-dasharray="0.1 3.6" stroke-linecap="round" fill="none" clip-path="url(#clipg)"/>
<path d="M365 430L370 445L367 460L372 475L368 490" stroke="#ff5252" stroke-width="2.4" stroke-dasharray="0.1 3.6" stroke-linecap="round" fill="none" clip-path="url(#clipg)"/>
<path d="M368 400L372 420L376 438L384 452L377 466L388 478L380 494" stroke="#f5e614" stroke-width="2.2" stroke-linejoin="round" fill="none" clip-path="url(#clipg)"/>
<g stroke="#555" stroke-width="1.2" stroke-dasharray="4 3" fill="none">
<path d="M102.4 24V240.6"/>
<path d="M134 24V240.6"/>
<path d="M47.9 132.2H196.8"/>
</g>
<g stroke="#555" stroke-width="1.2" stroke-dasharray="4 3" fill="none">
<path d="M259.5 24V240.6"/>
<path d="M291.1 24V240.6"/>
<path d="M205.1 132.2H353.9"/>
</g>
<g stroke="#555" stroke-width="1.2" stroke-dasharray="4 3" fill="none">
<path d="M417 24V240.6"/>
<path d="M448.3 24V240.6"/>
<path d="M362.9 132.2H510.6"/>
</g>
<rect x="47.9" y="24" width="148.9" height="216.6" fill="none" stroke="#000" stroke-width="1.8"/>
<rect x="205.1" y="24" width="148.8" height="216.6" fill="none" stroke="#000" stroke-width="1.8"/>
<rect x="362.9" y="24" width="147.7" height="216.6" fill="none" stroke="#000" stroke-width="1.8"/>
<rect x="565.6" y="22.3" width="241" height="214.6" fill="none" stroke="#000" stroke-width="1.8"/>
<rect x="47.9" y="277.8" width="148.5" height="216.2" fill="none" stroke="#000" stroke-width="1.8"/>
<rect x="204.9" y="277.8" width="148.5" height="216.2" fill="none" stroke="#000" stroke-width="1.8"/>
<rect x="362.7" y="277.8" width="148" height="216.2" fill="none" stroke="#000" stroke-width="1.8"/>
<rect x="564.8" y="283.4" width="241.8" height="216.4" fill="none" stroke="#000" stroke-width="1.8"/>
<path d="M47.9 240.5h6M47.9 213.4h3.5M47.9 186.4h6M47.9 159.3h3.5M47.9 132.2h6M47.9 105.2h3.5M47.9 78.1h6M47.9 51.1h3.5M47.9 24h6" stroke="#000" stroke-width="2" fill="none"/>
<path d="M205.1 240.5h6M205.1 213.4h3.5M205.1 186.4h6M205.1 159.3h3.5M205.1 132.2h6M205.1 105.2h3.5M205.1 78.1h6M205.1 51.1h3.5M205.1 24h6" stroke="#000" stroke-width="2" fill="none"/>
<path d="M362.9 240.5h6M362.9 213.4h3.5M362.9 186.4h6M362.9 159.3h3.5M362.9 132.2h6M362.9 105.2h3.5M362.9 78.1h6M362.9 51.1h3.5M362.9 24h6" stroke="#000" stroke-width="2" fill="none"/>
<text x="42" y="15.7" font-size="18" text-anchor="start">(a)</text>
<text x="195" y="15.7" font-size="18" text-anchor="start">(b)</text>
<text x="354" y="15.7" font-size="18" text-anchor="start">(c)</text>
<text x="519" y="15.7" font-size="18" text-anchor="start">(d)</text>
<text x="42" y="269.5" font-size="18" text-anchor="start">(e)</text>
<text x="198" y="269.5" font-size="18" text-anchor="start">(f)</text>
<text x="355" y="269.5" font-size="18" text-anchor="start">(g)</text>
<text x="519" y="269.5" font-size="18" text-anchor="start">(h)</text>
<text x="101" y="20" font-size="16.5">InSiTe<tspan font-size="9" dx="0.3" dy="4.2">3</tspan><tspan dy="-4.2"></tspan></text>
<text x="220.2" y="20" font-size="14.5" textLength="66.7" lengthAdjust="spacingAndGlyphs">α-In<tspan font-size="8.5" dy="3">2</tspan><tspan dy="-3">Se</tspan><tspan font-size="8.5" dy="3">3</tspan><tspan dy="-3">-P</tspan></text>
<text transform="translate(291.1,23.6) scale(1,1.75)" font-size="14" text-anchor="middle">↓</text>
<text x="295" y="20" font-size="14.5" textLength="53.3" lengthAdjust="spacingAndGlyphs">/InSiTe<tspan font-size="8.5" dy="3">3</tspan><tspan dy="-3"></tspan></text>
<text x="377.2" y="20" font-size="14.5" textLength="66.7" lengthAdjust="spacingAndGlyphs">α-In<tspan font-size="8.5" dy="3">2</tspan><tspan dy="-3">Se</tspan><tspan font-size="8.5" dy="3">3</tspan><tspan dy="-3">-P</tspan></text>
<text transform="translate(448.2,23.6) scale(1,1.75)" font-size="14" text-anchor="middle">↑</text>
<text x="451.1" y="20" font-size="14.5" textLength="54.2" lengthAdjust="spacingAndGlyphs">/InSiTe<tspan font-size="8.5" dy="3">3</tspan><tspan dy="-3"></tspan></text>
<text x="43" y="32" font-size="16.5" text-anchor="end">2</text>
<text x="43" y="86.1" font-size="16.5" text-anchor="end">1</text>
<text x="43" y="140.2" font-size="16.5" text-anchor="end">0</text>
<text x="43" y="194.4" font-size="16.5" text-anchor="end">-1</text>
<text x="43" y="248.5" font-size="16.5" text-anchor="end">-2</text>
<text transform="translate(20,138) rotate(-90)" font-size="20" text-anchor="middle">Energy(eV)</text>
<text x="49.2" y="254.7" font-size="14" text-anchor="middle">G</text>
<text x="101.1" y="254.7" font-size="14" text-anchor="middle">M</text>
<text x="132.5" y="254.7" font-size="14" text-anchor="middle">K</text>
<text x="192.6" y="254.7" font-size="14" text-anchor="middle">G</text>
<text x="206.4" y="254.7" font-size="14" text-anchor="middle">G</text>
<text x="258.2" y="254.7" font-size="14" text-anchor="middle">M</text>
<text x="289.6" y="254.7" font-size="14" text-anchor="middle">K</text>
<text x="349.7" y="254.7" font-size="14" text-anchor="middle">G</text>
<text x="364.2" y="254.7" font-size="14" text-anchor="middle">G</text>
<text x="415.6" y="254.7" font-size="14" text-anchor="middle">M</text>
<text x="446.8" y="254.7" font-size="14" text-anchor="middle">K</text>
<text x="506.4" y="254.7" font-size="14" text-anchor="middle">G</text>
<rect x="568.8" y="23.1" width="39.7" height="70.4" fill="url(#gcb)" stroke="#f7a0a0" stroke-width="0.8"/>
<rect x="568.8" y="139.5" width="39.7" height="96.6" fill="url(#gvb)" stroke="#9fdcea" stroke-width="0.6"/>
<rect x="617" y="23.1" width="39.5" height="75.2" fill="url(#gcb)" stroke="#f7a0a0" stroke-width="0.8"/>
<rect x="617" y="139.5" width="39.5" height="96.6" fill="url(#gvb)" stroke="#9fdcea" stroke-width="0.6"/>
<rect x="665.3" y="23.1" width="39.5" height="75.2" fill="url(#gcb)" stroke="#f7a0a0" stroke-width="0.8"/>
<rect x="665.3" y="139.5" width="39.5" height="96.6" fill="url(#gvb)" stroke="#9fdcea" stroke-width="0.6"/>
<rect x="713.8" y="23.1" width="39.3" height="103.8" fill="url(#gcb)" stroke="#f7a0a0" stroke-width="0.8"/>
<rect x="713.8" y="127.3" width="39.3" height="108.8" fill="url(#gvb)" stroke="#9fdcea" stroke-width="0.6"/>
<rect x="762.3" y="23.1" width="39" height="80.8" fill="url(#gcb)" stroke="#f7a0a0" stroke-width="0.8"/>
<rect x="762.3" y="139.5" width="39" height="96.6" fill="url(#gvb)" stroke="#9fdcea" stroke-width="0.6"/>
<path d="M565.6 127.3H806.6" stroke="#666" stroke-width="1.2" stroke-dasharray="4.4 3.3" fill="none"/>
<rect x="570" y="101.6" width="31.8" height="14.9" fill="url(#gcb)" stroke="#f7a0a0" stroke-width="0.8"/>
<rect x="571" y="119.3" width="31.2" height="15.1" fill="url(#gvb)" stroke="#9fdcea" stroke-width="0.6"/>
<text x="605.3" y="113.8" font-size="14.5" text-anchor="start">CBM</text>
<text x="605.9" y="131.5" font-size="14.5" text-anchor="start">VBM</text>
<path d="M565.6 236.5h6M565.6 209.2h4M565.6 181.9h6M565.6 154.6h4M565.6 127.3h6M565.6 101.1h4M565.6 74.8h6M565.6 48.6h4M565.6 22.4h6M588.6 236.9v-6M636.8 236.9v-6M685 236.9v-6M733.5 236.9v-6M781.8 236.9v-6" stroke="#000" stroke-width="2" fill="none"/>
<text x="560.5" y="34.9" font-size="16.5" text-anchor="end">2</text>
<text x="560.5" y="79.7" font-size="16.5" text-anchor="end">1</text>
<text x="560.5" y="133.6" font-size="16.5" text-anchor="end">0</text>
<text x="560.5" y="189.1" font-size="16.5" text-anchor="end">-1</text>
<text x="560.5" y="237.3" font-size="16.5" text-anchor="end">-2</text>
<text transform="translate(538,129) rotate(-90)" font-size="20" text-anchor="middle">Band Gap(eV)</text>
<text transform="translate(590.7,264) rotate(-20)" font-size="16" text-anchor="middle">InSiTe<tspan font-size="10" dy="3.5">3</tspan><tspan dy="-3.5"></tspan></text>
<text transform="translate(630.2,265) rotate(-20)" font-size="16" text-anchor="middle">α-In<tspan font-size="10" dy="3.5">2</tspan><tspan dy="-3.5">Se</tspan><tspan font-size="10" dy="3.5">3</tspan><tspan dy="-3.5">-P↓</tspan></text>
<text transform="translate(676.8,264.3) rotate(-20)" font-size="16" text-anchor="middle">α-In<tspan font-size="10" dy="3.5">2</tspan><tspan dy="-3.5">Se</tspan><tspan font-size="10" dy="3.5">3</tspan><tspan dy="-3.5">-P↑</tspan></text>
<text transform="translate(732.4,260.5) rotate(-20)" font-size="16" text-anchor="middle">HJ-P↓</text>
<text transform="translate(777.8,259.5) rotate(-20)" font-size="16" text-anchor="middle">HJ-P↑</text>
<path d="M564.8 318.5h8M564.8 354.2h4.5M564.8 390h8M564.8 425.8h4.5M564.8 461.5h8M564.8 497.2h4.5M595.6 499.8v-6.5M655.5 499.8v-6.5M715.9 499.8v-6.5M775.9 499.8v-6.5" stroke="#000" stroke-width="2" fill="none"/>
<text x="559.5" y="326.8" font-size="13.5" text-anchor="end">-1</text>
<text x="559.5" y="398.3" font-size="13.5" text-anchor="end">-2</text>
<text x="559.5" y="469.8" font-size="13.5" text-anchor="end">-3</text>
<text transform="translate(538.5,394) rotate(-90)" font-size="20" text-anchor="middle">Energy(eV)</text>
<g stroke-width="4.6" stroke-linecap="round" fill="none">
<path d="M579.5 361.2H610.7" stroke="#98c86a"/>
<path d="M639.8 317H670.9" stroke="#ff5252"/>
<path d="M639.8 378.3H670.9" stroke="#ff5252"/>
<path d="M700 415.8H731" stroke="#66c8dc"/>
<path d="M700 471H731" stroke="#66c8dc"/>
<path d="M760.5 452.9H791.7" stroke="#3450a0"/>
</g>
<text x="589.5" y="378.6" font-size="16">E<tspan font-size="10.5" dy="3.5">F</tspan></text>
<text x="772.5" y="468.6" font-size="16">E<tspan font-size="10.5" dy="3.5">F</tspan></text>
<text x="656" y="313" font-size="16" text-anchor="middle">CB</text>
<text x="656.5" y="393.4" font-size="16" text-anchor="middle">VB</text>
<text x="716.6" y="410.6" font-size="16" text-anchor="middle">CB</text>
<text x="716.6" y="485.3" font-size="16" text-anchor="middle">VB</text>
<text x="569.5" y="301" font-size="15.5" textLength="68" lengthAdjust="spacingAndGlyphs">E<tspan font-size="10.5" dy="3.5">VAC</tspan><tspan dy="-3.5">=0eV</tspan></text>
<text transform="translate(585.5,525) rotate(-20)" font-size="16" text-anchor="middle">InSiTe<tspan font-size="10" dy="3.5">3</tspan><tspan dy="-3.5"></tspan></text>
<text transform="translate(646.7,525) rotate(-20)" font-size="16" text-anchor="middle">InSiTe<tspan font-size="10" dy="3.5">3</tspan><tspan dy="-3.5"></tspan></text>
<text transform="translate(705.3,526) rotate(-20)" font-size="16" text-anchor="middle">α-In<tspan font-size="10" dy="3.5">2</tspan><tspan dy="-3.5">Se</tspan><tspan font-size="10" dy="3.5">3</tspan><tspan dy="-3.5"></tspan></text>
<text transform="translate(765.3,526.5) rotate(-20)" font-size="16" text-anchor="middle">α-In<tspan font-size="10" dy="3.5">2</tspan><tspan dy="-3.5">Se</tspan><tspan font-size="10" dy="3.5">3</tspan><tspan dy="-3.5"></tspan></text>
<path d="M47.9 385.9H196.4" stroke="#666" stroke-width="1.2" stroke-dasharray="4 3" fill="none"/>
<path d="M47.9 494h6M47.9 467h3.5M47.9 439.9h6M47.9 412.9h3.5M47.9 385.9h6M47.9 358.9h3.5M47.9 331.8h6M47.9 304.8h3.5M47.9 277.8h6" stroke="#000" stroke-width="2" fill="none"/>
<path d="M204.9 385.9H353.4" stroke="#666" stroke-width="1.2" stroke-dasharray="4 3" fill="none"/>
<path d="M204.9 494h6M204.9 467h3.5M204.9 439.9h6M204.9 412.9h3.5M204.9 385.9h6M204.9 358.9h3.5M204.9 331.8h6M204.9 304.8h3.5M204.9 277.8h6" stroke="#000" stroke-width="2" fill="none"/>
<path d="M362.7 385.9H510.7" stroke="#666" stroke-width="1.2" stroke-dasharray="4 3" fill="none"/>
<path d="M362.7 494h6M362.7 467h3.5M362.7 439.9h6M362.7 412.9h3.5M362.7 385.9h6M362.7 358.9h3.5M362.7 331.8h6M362.7 304.8h3.5M362.7 277.8h6" stroke="#000" stroke-width="2" fill="none"/>
<text x="43" y="287.8" font-size="16.5" text-anchor="end">2</text>
<text x="43" y="341.8" font-size="16.5" text-anchor="end">1</text>
<text x="43" y="395.9" font-size="16.5" text-anchor="end">0</text>
<text x="43" y="449.9" font-size="16.5" text-anchor="end">-1</text>
<text x="43" y="504" font-size="16.5" text-anchor="end">-2</text>
<text transform="translate(20,391) rotate(-90)" font-size="20" text-anchor="middle">Energy(eV)</text>
<path d="M97.6 494v-6M147.7 494v-6M72.5 494v-3.5M122.6 494v-3.5M172.8 494v-3.5" stroke="#000" stroke-width="1.6" fill="none"/>
<path d="M255 494v-6M304.1 494v-6M230.4 494v-3.5M279.5 494v-3.5M328.7 494v-3.5" stroke="#000" stroke-width="1.6" fill="none"/>
<path d="M409 494v-6M455.7 494v-6M502.3 494v-6M385.7 494v-3.5M432.4 494v-3.5M479 494v-3.5" stroke="#000" stroke-width="1.6" fill="none"/>
<text x="50.8" y="511" font-size="15" text-anchor="middle">0.0</text>
<text x="101.1" y="511" font-size="15" text-anchor="middle">0.4</text>
<text x="151" y="511" font-size="15" text-anchor="middle">0.8</text>
<text x="206.8" y="511" font-size="15" text-anchor="middle">0</text>
<text x="255.3" y="511" font-size="15" text-anchor="middle">1</text>
<text x="305.5" y="511" font-size="15" text-anchor="middle">2</text>
<text x="353.8" y="511" font-size="15" text-anchor="middle">3</text>
<text x="362.3" y="511" font-size="15" text-anchor="middle">0</text>
<text x="410.2" y="511" font-size="15" text-anchor="middle">1</text>
<text x="457" y="511" font-size="15" text-anchor="middle">2</text>
<text x="503.2" y="511" font-size="15" text-anchor="middle">3</text>
<text x="279" y="568" font-size="20" text-anchor="middle">PDOS(state/eV)</text>
<path d="M52.7 519.2H85.2" stroke="#ff5252" stroke-width="2.8" fill="none"/>
<text x="87.4" y="524.3" font-size="14" textLength="58.6" lengthAdjust="spacingAndGlyphs">In-s<tspan font-size="9.5" dy="3.5">(InSiTe</tspan><tspan font-size="6.5" dy="1">3</tspan><tspan font-size="9.5" dy="-1">)</tspan></text>
<path d="M149.3 519.2H179.2" stroke="#ff5252" stroke-width="2.4" stroke-dasharray="0.1 3.8" stroke-linecap="round" fill="none"/>
<text x="183.7" y="524.3" font-size="14" textLength="59.3" lengthAdjust="spacingAndGlyphs">In-p<tspan font-size="9.5" dy="3.5">(InSiTe</tspan><tspan font-size="6.5" dy="1">3</tspan><tspan font-size="9.5" dy="-1">)</tspan></text>
<path d="M252.3 520H285.4" stroke="#98c86a" stroke-width="2.8" fill="none"/>
<text x="288.3" y="524.3" font-size="14" textLength="21" lengthAdjust="spacingAndGlyphs">Si-s</text>
<path d="M358.7 520H388.7" stroke="#98c86a" stroke-width="2.4" stroke-dasharray="0.1 3.8" stroke-linecap="round" fill="none"/>
<text x="393" y="524.3" font-size="14" textLength="23.3" lengthAdjust="spacingAndGlyphs">Si-p</text>
<path d="M419.6 520H452.8" stroke="#66c8dc" stroke-width="2.8" fill="none"/>
<text x="456" y="524.3" font-size="14" textLength="24.4" lengthAdjust="spacingAndGlyphs">Te-s</text>
<path d="M53.7 542.4H84" stroke="#66c8dc" stroke-width="2.4" stroke-dasharray="0.1 3.8" stroke-linecap="round" fill="none"/>
<text x="87.4" y="547" font-size="14" textLength="26.6" lengthAdjust="spacingAndGlyphs">Te-p</text>
<path d="M148.3 542.2H181.4" stroke="#f5e614" stroke-width="2.8" fill="none"/>
<text x="183.7" y="547" font-size="14" textLength="67" lengthAdjust="spacingAndGlyphs">In-s<tspan font-size="8.5" dy="3.5">(α-In</tspan><tspan font-size="6" dy="1">2</tspan><tspan font-size="8.5" dy="-1">Se</tspan><tspan font-size="6" dy="1">3</tspan><tspan font-size="8.5" dy="-1">↑)</tspan></text>
<path d="M253.3 542.2H282.8" stroke="#f5e614" stroke-width="2.4" stroke-dasharray="0.1 3.8" stroke-linecap="round" fill="none"/>
<text x="287.2" y="547" font-size="14" textLength="68" lengthAdjust="spacingAndGlyphs">In-p<tspan font-size="8.5" dy="3.5">(α-In</tspan><tspan font-size="6" dy="1">2</tspan><tspan font-size="8.5" dy="-1">Se</tspan><tspan font-size="6" dy="1">3</tspan><tspan font-size="8.5" dy="-1">↑)</tspan></text>
<path d="M357.7 542.2H390.9" stroke="#3450a0" stroke-width="2.8" fill="none"/>
<text x="393" y="547" font-size="14" textLength="24.4" lengthAdjust="spacingAndGlyphs">Se-s</text>
<path d="M420.6 542.2H450.6" stroke="#3450a0" stroke-width="2.4" stroke-dasharray="0.1 3.8" stroke-linecap="round" fill="none"/>
<text x="455" y="547" font-size="14" textLength="25.4" lengthAdjust="spacingAndGlyphs">Se-p</text>
<text x="50.3" y="127.3" font-size="13.5" textLength="63" lengthAdjust="spacingAndGlyphs">Eg=0.86eV</text>
<path d="M127.1 98.2L119.3 111.1" stroke="#111" stroke-width="1.1" fill="none"/>
<path d="M115.2 118L117.1 108.6L122.6 111.9Z" fill="#111"/>
<path d="M133.3 144L121.4 133.2" stroke="#111" stroke-width="1.1" fill="none"/>
<path d="M115.5 127.8L124.3 131.5L120 136.2Z" fill="#111"/>
<text x="381" y="127.8" font-size="13.5" textLength="62.8" lengthAdjust="spacingAndGlyphs">Eg=0.67eV</text>
<path d="M510 110.3L464.6 117.4" stroke="#111" stroke-width="1.1" fill="none"/>
<path d="M456.7 118.6L465.1 114.1L466.1 120.4Z" fill="#111"/>
<path d="M449 143.9L441.3 135.2" stroke="#111" stroke-width="1.1" fill="none"/>
<path d="M436 129.2L444.4 133.8L439.6 138.1Z" fill="#111"/>
</svg></body></html>
